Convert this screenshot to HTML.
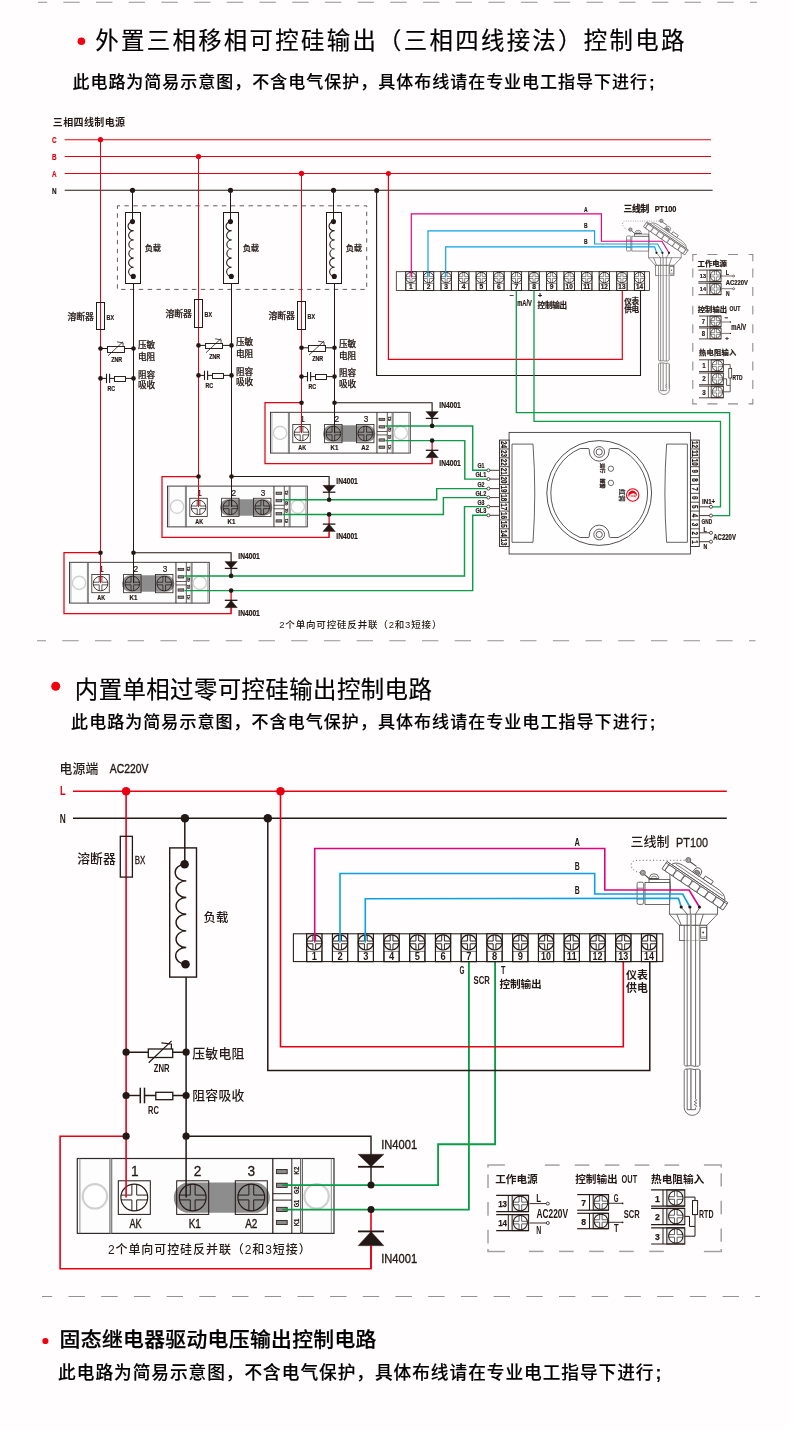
<!DOCTYPE html>
<html lang="zh-CN"><head><meta charset="utf-8"><title>控制电路接线图</title>
<style>
html,body{margin:0;padding:0;background:#fffdfd;}
body{width:790px;height:1430px;overflow:hidden;}
svg{display:block;font-family:'Liberation Sans','Noto Sans CJK SC',sans-serif;will-change:transform;-webkit-font-smoothing:antialiased;}
text{white-space:pre;}
</style></head><body>
<svg width="790" height="1430" viewBox="0 0 790 1430">
<rect x="0" y="0" width="790" height="1430" fill="#fffdfd"/>
<line x1="38" y1="2.3" x2="757" y2="2.3" stroke="#929292" stroke-width="1.1" stroke-dasharray="16.4 16.3" stroke-dashoffset="7.4"/>
<line x1="37" y1="640.8" x2="755.5" y2="640.8" stroke="#929292" stroke-width="1.1" stroke-dasharray="16.4 16.3" stroke-dashoffset="7.4"/>
<line x1="42" y1="1296.5" x2="760" y2="1296.5" stroke="#929292" stroke-width="1.1" stroke-dasharray="16.4 16.3" stroke-dashoffset="6.2"/>
<circle cx="81.4" cy="41.3" r="3.8" fill="#f2000d" stroke="none" stroke-width="1" />
<text x="95.3" y="49.02" font-size="23.4" font-weight="400" fill="#000" textLength="589" lengthAdjust="spacing" stroke="#000" stroke-width="0.2">外置三相移相可控硅输出（三相四线接法）控制电路</text>
<text x="72.4" y="87.92" font-size="17" font-weight="500" fill="#000" textLength="582.2" lengthAdjust="spacing" stroke="#000" stroke-width="0.12">此电路为简易示意图，不含电气保护，具体布线请在专业电工指导下进行<tspan font-weight="700" dx="0.9">;</tspan></text>
<circle cx="55.7" cy="686.3" r="4.5" fill="#f2000d" stroke="none" stroke-width="1" />
<text x="74.8" y="697.52" font-size="23.4" font-weight="400" fill="#000" textLength="357" lengthAdjust="spacing" stroke="#000" stroke-width="0.2">内置单相过零可控硅输出控制电路</text>
<text x="71.1" y="727.62" font-size="17" font-weight="500" fill="#000" textLength="584.2" lengthAdjust="spacing" stroke="#000" stroke-width="0.12">此电路为简易示意图，不含电气保护，具体布线请在专业电工指导下进行<tspan font-weight="700" dx="0.9">;</tspan></text>
<circle cx="45.4" cy="1341" r="3.1" fill="#f2000d" stroke="none" stroke-width="1" />
<text x="59.6" y="1346.99" font-size="20.8" font-weight="500" fill="#000" textLength="316.8" lengthAdjust="spacing" stroke="#000" stroke-width="0.25">固态继电器驱动电压输出控制电路</text>
<text x="58.1" y="1378.87" font-size="17.7" font-weight="500" fill="#000" textLength="603.2" lengthAdjust="spacing" stroke="#000" stroke-width="0.12">此电路为简易示意图，不含电气保护，具体布线请在专业电工指导下进行<tspan font-weight="700" dx="0.9">;</tspan></text>
<text x="52.8" y="125.6" font-size="10" font-weight="700" fill="#231815" textLength="72.2" lengthAdjust="spacing" >三相四线制电源</text>
<text x="54.2" y="143.26" font-size="9.6" font-weight="700" fill="#e60012" text-anchor="middle" textLength="4.6" lengthAdjust="spacingAndGlyphs"  stroke="#e60012" stroke-width="0.22">C</text>
<line x1="64.7" y1="139.7" x2="711" y2="139.7" stroke="#e60012" stroke-width="1.05" />
<text x="54.2" y="160.06" font-size="9.6" font-weight="700" fill="#e60012" text-anchor="middle" textLength="4.6" lengthAdjust="spacingAndGlyphs"  stroke="#e60012" stroke-width="0.22">B</text>
<line x1="64.7" y1="156.5" x2="711" y2="156.5" stroke="#e60012" stroke-width="1.05" />
<text x="54.2" y="176.96" font-size="9.6" font-weight="700" fill="#e60012" text-anchor="middle" textLength="4.6" lengthAdjust="spacingAndGlyphs"  stroke="#e60012" stroke-width="0.22">A</text>
<line x1="64.7" y1="173.4" x2="711" y2="173.4" stroke="#e60012" stroke-width="1.05" />
<text x="54.2" y="193.86" font-size="9.6" font-weight="700" fill="#231815" text-anchor="middle" textLength="4.6" lengthAdjust="spacingAndGlyphs"  stroke="#231815" stroke-width="0.22">N</text>
<line x1="64.7" y1="190.3" x2="712.6" y2="190.3" stroke="#231815" stroke-width="1.1" />
<rect x="117.4" y="205.8" width="249.3" height="83.6" rx="0" fill="none" stroke="#5e5e5e" stroke-width="1" stroke-dasharray="4.4 4.46" stroke-dashoffset="1.8"/>
<polyline points="100.5,552.7 64,552.7 64,613.5 231.1,613.5 231.1,590.7" fill="none" stroke="#e60012" stroke-width="1.25" stroke-linejoin="miter" />
<polyline points="133.5,552.7 231.1,552.7 231.1,575.4" fill="none" stroke="#231815" stroke-width="1.15" stroke-linejoin="miter" />
<rect x="69.5" y="562.3" width="139.77" height="40.78" rx="0" fill="#fdfdfd" stroke="#2e2a29" stroke-width="0.9" />
<line x1="70.92" y1="562.3" x2="70.92" y2="603.08" stroke="#8a8a8a" stroke-width="0.7200000000000001" />
<rect x="87.25" y="562.3" width="1.03" height="40.78" rx="0" fill="#ddd" stroke="#4a4a4a" stroke-width="0.63" />
<circle cx="79.08" cy="582.88" r="6.64" fill="#fff" stroke="#d0d0d0" stroke-width="1.33455" />
<rect x="91.82" y="574.44" width="17.42" height="18.3" rx="0" fill="#fff" stroke="#231815" stroke-width="0.765" />
<rect x="123.62" y="574.44" width="17.42" height="18.3" rx="0" fill="#fff" stroke="none" stroke-width="0" />
<rect x="155.53" y="574.44" width="17.42" height="18.3" rx="0" fill="#fff" stroke="none" stroke-width="0" />
<rect x="122.04" y="575.37" width="52.27" height="16.5" rx="8.22" fill="#8d8d8d" stroke="none" stroke-width="0" />
<circle cx="100.54" cy="583.54" r="7.3" fill="#fff" stroke="none" stroke-width="0" />
<path d="M99.22 576.36V582.22H93.36M93.36 584.85H99.22V590.71M101.85 590.71V584.85H107.71M107.71 582.22H101.85V576.36" fill="none" stroke="#231815" stroke-width="0.72675" />
<circle cx="100.54" cy="583.54" r="7.3" fill="none" stroke="#231815" stroke-width="0.855" />
<rect x="123.62" y="574.44" width="17.42" height="18.3" rx="0" fill="none" stroke="#231815" stroke-width="0.765" />
<circle cx="132.34" cy="583.54" r="7.3" fill="none" stroke="none" stroke-width="0" />
<path d="M131.02 576.36V582.22H125.16M125.16 584.85H131.02V590.71M133.65 590.71V584.85H139.51M139.51 582.22H133.65V576.36" fill="none" stroke="#231815" stroke-width="0.72675" />
<circle cx="132.34" cy="583.54" r="7.3" fill="none" stroke="#231815" stroke-width="0.855" />
<rect x="155.53" y="574.44" width="17.42" height="18.3" rx="0" fill="none" stroke="#231815" stroke-width="0.765" />
<circle cx="164.24" cy="583.54" r="7.3" fill="none" stroke="none" stroke-width="0" />
<path d="M162.93 576.36V582.22H157.07M157.07 584.85H162.93V590.71M165.56 590.71V584.85H171.42M171.42 582.22H165.56V576.36" fill="none" stroke="#231815" stroke-width="0.72675" />
<circle cx="164.24" cy="583.54" r="7.3" fill="none" stroke="#231815" stroke-width="0.855" />
<text x="101.63" y="571.93" font-size="9.2" font-weight="400" fill="#231815" text-anchor="middle" textLength="4.6" lengthAdjust="spacingAndGlyphs" stroke="#231815" stroke-width="0.2">1</text>
<text x="135.82" y="571.93" font-size="9.2" font-weight="400" fill="#231815" text-anchor="middle" textLength="4.6" lengthAdjust="spacingAndGlyphs" stroke="#231815" stroke-width="0.2">2</text>
<text x="165.06" y="571.93" font-size="9.2" font-weight="400" fill="#231815" text-anchor="middle" textLength="4.6" lengthAdjust="spacingAndGlyphs" stroke="#231815" stroke-width="0.2">3</text>
<text x="101.24" y="600.32" font-size="7.6" font-weight="700" fill="#231815" text-anchor="middle" textLength="7.75" lengthAdjust="spacingAndGlyphs"  stroke="#231815" stroke-width="0.22">AK</text>
<text x="133.48" y="600.32" font-size="7.6" font-weight="700" fill="#231815" text-anchor="middle" textLength="7.75" lengthAdjust="spacingAndGlyphs"  stroke="#231815" stroke-width="0.22">K1</text>
<line x1="175.95" y1="562.3" x2="175.95" y2="603.08" stroke="#231815" stroke-width="0.9" />
<line x1="186.3" y1="562.3" x2="186.3" y2="603.08" stroke="#231815" stroke-width="0.7200000000000001" />
<rect x="191.09" y="562.3" width="1.03" height="40.78" rx="0" fill="#ddd" stroke="#4a4a4a" stroke-width="0.63" />
<line x1="207.8" y1="562.3" x2="207.8" y2="603.08" stroke="#8a8a8a" stroke-width="0.7200000000000001" />
<line x1="175.95" y1="581.47" x2="186.3" y2="581.47" stroke="#231815" stroke-width="0.7200000000000001" />
<line x1="175.95" y1="584.95" x2="186.3" y2="584.95" stroke="#231815" stroke-width="0.7200000000000001" />
<rect x="178.02" y="568.29" width="5.77" height="2.29" rx="0" fill="#8a8a8a" stroke="#231815" stroke-width="0.63" />
<rect x="178.02" y="575.75" width="5.77" height="2.29" rx="0" fill="#8a8a8a" stroke="#231815" stroke-width="0.63" />
<rect x="178.02" y="588.87" width="5.77" height="2.29" rx="0" fill="#8a8a8a" stroke="#231815" stroke-width="0.63" />
<rect x="178.02" y="596" width="5.77" height="2.29" rx="0" fill="#8a8a8a" stroke="#231815" stroke-width="0.63" />
<text x="188.75" y="570.43" font-size="4.28" font-weight="700" fill="#231815" text-anchor="middle" textLength="4.5" lengthAdjust="spacingAndGlyphs" transform="rotate(-90 188.75 568.89)"  stroke="#231815" stroke-width="0.22">K2</text>
<text x="188.75" y="581.05" font-size="4.28" font-weight="700" fill="#231815" text-anchor="middle" textLength="4.5" lengthAdjust="spacingAndGlyphs" transform="rotate(-90 188.75 579.51)"  stroke="#231815" stroke-width="0.22">G2</text>
<text x="188.75" y="588.35" font-size="4.28" font-weight="700" fill="#231815" text-anchor="middle" textLength="4.5" lengthAdjust="spacingAndGlyphs" transform="rotate(-90 188.75 586.8)"  stroke="#231815" stroke-width="0.22">G1</text>
<text x="188.75" y="598.69" font-size="4.28" font-weight="700" fill="#231815" text-anchor="middle" textLength="4.5" lengthAdjust="spacingAndGlyphs" transform="rotate(-90 188.75 597.15)"  stroke="#231815" stroke-width="0.22">K1</text>
<circle cx="199.8" cy="582.88" r="6.64" fill="#fff" stroke="#d0d0d0" stroke-width="1.33455" />
<line x1="100.5" y1="139.7" x2="100.5" y2="583.2" stroke="#e60012" stroke-width="1" />
<line x1="133.5" y1="276.4" x2="133.5" y2="583.2" stroke="#231815" stroke-width="1" />
<circle cx="100.5" cy="139.7" r="2.6" fill="#e60012" stroke="none" stroke-width="1" />
<circle cx="132.5" cy="190.3" r="2.6" fill="#231815" stroke="none" stroke-width="1" />
<circle cx="100.5" cy="552.7" r="2.3" fill="#231815" stroke="none" stroke-width="1" />
<circle cx="133.5" cy="552.7" r="2.3" fill="#231815" stroke="none" stroke-width="1" />
<rect x="125.5" y="212.5" width="15" height="71" rx="0" fill="#fffdfd" stroke="#231815" stroke-width="1" />
<line x1="132.5" y1="190.3" x2="132.5" y2="221.5" stroke="#231815" stroke-width="1" />
<path d="M132.5 221.6A5 4.57 0 0 0 133.61 230.73A5 4.57 0 0 0 133.61 239.87A5 4.57 0 0 0 133.61 249A5 4.57 0 0 0 133.61 258.13A5 4.57 0 0 0 133.61 267.27A5 4.57 0 0 0 133.3 276.4" fill="none" stroke="#231815" stroke-width="1.05" />
<circle cx="132.5" cy="221.6" r="2.55" fill="#231815" stroke="none" stroke-width="1" />
<circle cx="133.3" cy="276.4" r="2.55" fill="#231815" stroke="none" stroke-width="1" />
<text x="144.7" y="251.29" font-size="8.3" font-weight="500" fill="#231815" textLength="16.4" lengthAdjust="spacing" stroke="#231815" stroke-width="0.2">负载</text>
<rect x="96.5" y="302.5" width="8" height="27" rx="0" fill="none" stroke="#231815" stroke-width="1" />
<text x="67.4" y="319.9" font-size="8.9" font-weight="500" fill="#231815" textLength="26.4" lengthAdjust="spacing" stroke="#231815" stroke-width="0.2">溶断器</text>
<text x="106.6" y="319.81" font-size="7.8" font-weight="700" fill="#231815" textLength="7.4" lengthAdjust="spacingAndGlyphs"  stroke="#231815" stroke-width="0.22">BX</text>
<line x1="100.5" y1="348.5" x2="133.5" y2="348.5" stroke="#231815" stroke-width="1" />
<circle cx="100.5" cy="348.5" r="2.3" fill="#231815" stroke="none" stroke-width="1" />
<circle cx="133.5" cy="348.5" r="2.3" fill="#231815" stroke="none" stroke-width="1" />
<rect x="107.5" y="346.5" width="17" height="6" rx="0" fill="#fffdfd" stroke="#231815" stroke-width="0.95" />
<path d="M108 355.8 L123.1 341.6 M117.1 341.9 L123.1 342.9 V345.9" fill="none" stroke="#231815" stroke-width="0.8" />
<text x="116.7" y="361.96" font-size="7.4" font-weight="700" fill="#231815" text-anchor="middle" textLength="11" lengthAdjust="spacingAndGlyphs"  stroke="#231815" stroke-width="0.22">ZNR</text>
<text x="138.1" y="347.93" font-size="8.7" font-weight="500" fill="#231815" textLength="17.2" lengthAdjust="spacing" stroke="#231815" stroke-width="0.2">压敏</text>
<text x="138.1" y="359.83" font-size="8.7" font-weight="500" fill="#231815" textLength="17.2" lengthAdjust="spacing" stroke="#231815" stroke-width="0.2">电阻</text>
<line x1="100.5" y1="378.4" x2="106.5" y2="378.4" stroke="#231815" stroke-width="1" />
<line x1="109.6" y1="378.4" x2="133.5" y2="378.4" stroke="#231815" stroke-width="1" />
<circle cx="100.5" cy="378.4" r="2.3" fill="#231815" stroke="none" stroke-width="1" />
<circle cx="133.5" cy="378.4" r="2.3" fill="#231815" stroke="none" stroke-width="1" />
<line x1="106.5" y1="373.7" x2="106.5" y2="383.1" stroke="#231815" stroke-width="1.1" />
<line x1="109.6" y1="373.7" x2="109.6" y2="383.1" stroke="#231815" stroke-width="1.1" />
<rect x="114.5" y="376.5" width="11" height="5" rx="0" fill="#fffdfd" stroke="#231815" stroke-width="0.95" />
<text x="111.2" y="391.16" font-size="7.4" font-weight="700" fill="#231815" text-anchor="middle" textLength="7.6" lengthAdjust="spacingAndGlyphs"  stroke="#231815" stroke-width="0.22">RC</text>
<text x="138.1" y="377.53" font-size="8.7" font-weight="500" fill="#231815" textLength="17.2" lengthAdjust="spacing" stroke="#231815" stroke-width="0.2">阻容</text>
<text x="138.1" y="388.33" font-size="8.7" font-weight="500" fill="#231815" textLength="17.2" lengthAdjust="spacing" stroke="#231815" stroke-width="0.2">吸收</text>
<polygon points="224.8,561.5 237.4,561.5 231.1,568.4" fill="#231815" stroke="#231815" stroke-width="0.3" />
<line x1="224.8" y1="568.4" x2="237.4" y2="568.4" stroke="#231815" stroke-width="1.3" />
<polygon points="224.8,607.7 237.4,607.7 231.1,600.3" fill="#231815" stroke="#231815" stroke-width="0.3" />
<line x1="224.8" y1="600.3" x2="237.4" y2="600.3" stroke="#231815" stroke-width="1.3" />
<line x1="231.1" y1="607.7" x2="231.1" y2="613.5" stroke="#e60012" stroke-width="1" />
<text x="238.3" y="559.42" font-size="8.4" font-weight="700" fill="#231815" textLength="21.5" lengthAdjust="spacingAndGlyphs"  stroke="#231815" stroke-width="0.22">IN4001</text>
<text x="238.3" y="615.82" font-size="8.4" font-weight="700" fill="#231815" textLength="21.5" lengthAdjust="spacingAndGlyphs"  stroke="#231815" stroke-width="0.22">IN4001</text>
<polyline points="198.5,476.5 162,476.5 162,537.3 329.1,537.3 329.1,514.5" fill="none" stroke="#e60012" stroke-width="1.25" stroke-linejoin="miter" />
<polyline points="231.5,476.5 329.1,476.5 329.1,499.2" fill="none" stroke="#231815" stroke-width="1.15" stroke-linejoin="miter" />
<rect x="167.5" y="486.1" width="139.77" height="40.78" rx="0" fill="#fdfdfd" stroke="#2e2a29" stroke-width="0.9" />
<line x1="168.92" y1="486.1" x2="168.92" y2="526.88" stroke="#8a8a8a" stroke-width="0.7200000000000001" />
<rect x="185.25" y="486.1" width="1.03" height="40.78" rx="0" fill="#ddd" stroke="#4a4a4a" stroke-width="0.63" />
<circle cx="177.08" cy="506.68" r="6.64" fill="#fff" stroke="#d0d0d0" stroke-width="1.33455" />
<rect x="189.82" y="498.24" width="17.42" height="18.3" rx="0" fill="#fff" stroke="#231815" stroke-width="0.765" />
<rect x="221.62" y="498.24" width="17.42" height="18.3" rx="0" fill="#fff" stroke="none" stroke-width="0" />
<rect x="253.53" y="498.24" width="17.42" height="18.3" rx="0" fill="#fff" stroke="none" stroke-width="0" />
<rect x="220.04" y="499.17" width="52.27" height="16.5" rx="8.22" fill="#8d8d8d" stroke="none" stroke-width="0" />
<circle cx="198.54" cy="507.34" r="7.3" fill="#fff" stroke="none" stroke-width="0" />
<path d="M197.22 500.16V506.02H191.36M191.36 508.65H197.22V514.51M199.85 514.51V508.65H205.71M205.71 506.02H199.85V500.16" fill="none" stroke="#231815" stroke-width="0.72675" />
<circle cx="198.54" cy="507.34" r="7.3" fill="none" stroke="#231815" stroke-width="0.855" />
<rect x="221.62" y="498.24" width="17.42" height="18.3" rx="0" fill="none" stroke="#231815" stroke-width="0.765" />
<circle cx="230.34" cy="507.34" r="7.3" fill="none" stroke="none" stroke-width="0" />
<path d="M229.02 500.16V506.02H223.16M223.16 508.65H229.02V514.51M231.65 514.51V508.65H237.51M237.51 506.02H231.65V500.16" fill="none" stroke="#231815" stroke-width="0.72675" />
<circle cx="230.34" cy="507.34" r="7.3" fill="none" stroke="#231815" stroke-width="0.855" />
<rect x="253.53" y="498.24" width="17.42" height="18.3" rx="0" fill="none" stroke="#231815" stroke-width="0.765" />
<circle cx="262.24" cy="507.34" r="7.3" fill="none" stroke="none" stroke-width="0" />
<path d="M260.93 500.16V506.02H255.07M255.07 508.65H260.93V514.51M263.56 514.51V508.65H269.42M269.42 506.02H263.56V500.16" fill="none" stroke="#231815" stroke-width="0.72675" />
<circle cx="262.24" cy="507.34" r="7.3" fill="none" stroke="#231815" stroke-width="0.855" />
<text x="199.63" y="495.73" font-size="9.2" font-weight="400" fill="#231815" text-anchor="middle" textLength="4.6" lengthAdjust="spacingAndGlyphs" stroke="#231815" stroke-width="0.2">1</text>
<text x="233.82" y="495.73" font-size="9.2" font-weight="400" fill="#231815" text-anchor="middle" textLength="4.6" lengthAdjust="spacingAndGlyphs" stroke="#231815" stroke-width="0.2">2</text>
<text x="263.06" y="495.73" font-size="9.2" font-weight="400" fill="#231815" text-anchor="middle" textLength="4.6" lengthAdjust="spacingAndGlyphs" stroke="#231815" stroke-width="0.2">3</text>
<text x="199.24" y="524.12" font-size="7.6" font-weight="700" fill="#231815" text-anchor="middle" textLength="7.75" lengthAdjust="spacingAndGlyphs"  stroke="#231815" stroke-width="0.22">AK</text>
<text x="231.48" y="524.12" font-size="7.6" font-weight="700" fill="#231815" text-anchor="middle" textLength="7.75" lengthAdjust="spacingAndGlyphs"  stroke="#231815" stroke-width="0.22">K1</text>
<line x1="273.95" y1="486.1" x2="273.95" y2="526.88" stroke="#231815" stroke-width="0.9" />
<line x1="284.3" y1="486.1" x2="284.3" y2="526.88" stroke="#231815" stroke-width="0.7200000000000001" />
<rect x="289.09" y="486.1" width="1.03" height="40.78" rx="0" fill="#ddd" stroke="#4a4a4a" stroke-width="0.63" />
<line x1="305.8" y1="486.1" x2="305.8" y2="526.88" stroke="#8a8a8a" stroke-width="0.7200000000000001" />
<line x1="273.95" y1="505.27" x2="284.3" y2="505.27" stroke="#231815" stroke-width="0.7200000000000001" />
<line x1="273.95" y1="508.75" x2="284.3" y2="508.75" stroke="#231815" stroke-width="0.7200000000000001" />
<rect x="276.02" y="492.09" width="5.77" height="2.29" rx="0" fill="#8a8a8a" stroke="#231815" stroke-width="0.63" />
<rect x="276.02" y="499.55" width="5.77" height="2.29" rx="0" fill="#8a8a8a" stroke="#231815" stroke-width="0.63" />
<rect x="276.02" y="512.67" width="5.77" height="2.29" rx="0" fill="#8a8a8a" stroke="#231815" stroke-width="0.63" />
<rect x="276.02" y="519.8" width="5.77" height="2.29" rx="0" fill="#8a8a8a" stroke="#231815" stroke-width="0.63" />
<text x="286.75" y="494.23" font-size="4.28" font-weight="700" fill="#231815" text-anchor="middle" textLength="4.5" lengthAdjust="spacingAndGlyphs" transform="rotate(-90 286.75 492.69)"  stroke="#231815" stroke-width="0.22">K2</text>
<text x="286.75" y="504.85" font-size="4.28" font-weight="700" fill="#231815" text-anchor="middle" textLength="4.5" lengthAdjust="spacingAndGlyphs" transform="rotate(-90 286.75 503.31)"  stroke="#231815" stroke-width="0.22">G2</text>
<text x="286.75" y="512.15" font-size="4.28" font-weight="700" fill="#231815" text-anchor="middle" textLength="4.5" lengthAdjust="spacingAndGlyphs" transform="rotate(-90 286.75 510.6)"  stroke="#231815" stroke-width="0.22">G1</text>
<text x="286.75" y="522.49" font-size="4.28" font-weight="700" fill="#231815" text-anchor="middle" textLength="4.5" lengthAdjust="spacingAndGlyphs" transform="rotate(-90 286.75 520.95)"  stroke="#231815" stroke-width="0.22">K1</text>
<circle cx="297.8" cy="506.68" r="6.64" fill="#fff" stroke="#d0d0d0" stroke-width="1.33455" />
<line x1="198.5" y1="156.5" x2="198.5" y2="507" stroke="#e60012" stroke-width="1" />
<line x1="231.5" y1="276.4" x2="231.5" y2="507" stroke="#231815" stroke-width="1" />
<circle cx="198.5" cy="156.5" r="2.6" fill="#e60012" stroke="none" stroke-width="1" />
<circle cx="230.5" cy="190.3" r="2.6" fill="#231815" stroke="none" stroke-width="1" />
<circle cx="198.5" cy="476.5" r="2.3" fill="#231815" stroke="none" stroke-width="1" />
<circle cx="231.5" cy="476.5" r="2.3" fill="#231815" stroke="none" stroke-width="1" />
<rect x="223.5" y="212.5" width="15" height="71" rx="0" fill="#fffdfd" stroke="#231815" stroke-width="1" />
<line x1="230.5" y1="190.3" x2="230.5" y2="221.5" stroke="#231815" stroke-width="1" />
<path d="M230.5 221.6A5 4.57 0 0 0 231.61 230.73A5 4.57 0 0 0 231.61 239.87A5 4.57 0 0 0 231.61 249A5 4.57 0 0 0 231.61 258.13A5 4.57 0 0 0 231.61 267.27A5 4.57 0 0 0 231.3 276.4" fill="none" stroke="#231815" stroke-width="1.05" />
<circle cx="230.5" cy="221.6" r="2.55" fill="#231815" stroke="none" stroke-width="1" />
<circle cx="231.3" cy="276.4" r="2.55" fill="#231815" stroke="none" stroke-width="1" />
<text x="242.7" y="251.29" font-size="8.3" font-weight="500" fill="#231815" textLength="16.4" lengthAdjust="spacing" stroke="#231815" stroke-width="0.2">负载</text>
<rect x="194.5" y="299.5" width="8" height="28" rx="0" fill="none" stroke="#231815" stroke-width="1" />
<text x="165.4" y="317.1" font-size="8.9" font-weight="500" fill="#231815" textLength="26.4" lengthAdjust="spacing" stroke="#231815" stroke-width="0.2">溶断器</text>
<text x="204.6" y="317.01" font-size="7.8" font-weight="700" fill="#231815" textLength="7.4" lengthAdjust="spacingAndGlyphs"  stroke="#231815" stroke-width="0.22">BX</text>
<line x1="198.5" y1="345.4" x2="231.5" y2="345.4" stroke="#231815" stroke-width="1" />
<circle cx="198.5" cy="345.4" r="2.3" fill="#231815" stroke="none" stroke-width="1" />
<circle cx="231.5" cy="345.4" r="2.3" fill="#231815" stroke="none" stroke-width="1" />
<rect x="205.5" y="343.5" width="17" height="5" rx="0" fill="#fffdfd" stroke="#231815" stroke-width="0.95" />
<path d="M206 352.7 L221.1 338.5 M215.1 338.8 L221.1 339.8 V342.8" fill="none" stroke="#231815" stroke-width="0.8" />
<text x="214.7" y="358.86" font-size="7.4" font-weight="700" fill="#231815" text-anchor="middle" textLength="11" lengthAdjust="spacingAndGlyphs"  stroke="#231815" stroke-width="0.22">ZNR</text>
<text x="236.1" y="344.83" font-size="8.7" font-weight="500" fill="#231815" textLength="17.2" lengthAdjust="spacing" stroke="#231815" stroke-width="0.2">压敏</text>
<text x="236.1" y="356.73" font-size="8.7" font-weight="500" fill="#231815" textLength="17.2" lengthAdjust="spacing" stroke="#231815" stroke-width="0.2">电阻</text>
<line x1="198.5" y1="375.4" x2="204.5" y2="375.4" stroke="#231815" stroke-width="1" />
<line x1="207.6" y1="375.4" x2="231.5" y2="375.4" stroke="#231815" stroke-width="1" />
<circle cx="198.5" cy="375.4" r="2.3" fill="#231815" stroke="none" stroke-width="1" />
<circle cx="231.5" cy="375.4" r="2.3" fill="#231815" stroke="none" stroke-width="1" />
<line x1="204.5" y1="370.7" x2="204.5" y2="380.1" stroke="#231815" stroke-width="1.1" />
<line x1="207.6" y1="370.7" x2="207.6" y2="380.1" stroke="#231815" stroke-width="1.1" />
<rect x="212.5" y="373.5" width="11" height="5" rx="0" fill="#fffdfd" stroke="#231815" stroke-width="0.95" />
<text x="209.2" y="388.16" font-size="7.4" font-weight="700" fill="#231815" text-anchor="middle" textLength="7.6" lengthAdjust="spacingAndGlyphs"  stroke="#231815" stroke-width="0.22">RC</text>
<text x="236.1" y="374.53" font-size="8.7" font-weight="500" fill="#231815" textLength="17.2" lengthAdjust="spacing" stroke="#231815" stroke-width="0.2">阻容</text>
<text x="236.1" y="385.33" font-size="8.7" font-weight="500" fill="#231815" textLength="17.2" lengthAdjust="spacing" stroke="#231815" stroke-width="0.2">吸收</text>
<polygon points="322.8,485.3 335.4,485.3 329.1,492.2" fill="#231815" stroke="#231815" stroke-width="0.3" />
<line x1="322.8" y1="492.2" x2="335.4" y2="492.2" stroke="#231815" stroke-width="1.3" />
<polygon points="322.8,531.5 335.4,531.5 329.1,524.1" fill="#231815" stroke="#231815" stroke-width="0.3" />
<line x1="322.8" y1="524.1" x2="335.4" y2="524.1" stroke="#231815" stroke-width="1.3" />
<line x1="329.1" y1="531.5" x2="329.1" y2="537.3" stroke="#e60012" stroke-width="1" />
<text x="336.3" y="484.42" font-size="8.4" font-weight="700" fill="#231815" textLength="21.5" lengthAdjust="spacingAndGlyphs"  stroke="#231815" stroke-width="0.22">IN4001</text>
<text x="336.3" y="538.82" font-size="8.4" font-weight="700" fill="#231815" textLength="21.5" lengthAdjust="spacingAndGlyphs"  stroke="#231815" stroke-width="0.22">IN4001</text>
<polyline points="301.5,402.7 265,402.7 265,463.5 432.1,463.5 432.1,440.7" fill="none" stroke="#e60012" stroke-width="1.25" stroke-linejoin="miter" />
<polyline points="334.5,402.7 432.1,402.7 432.1,425.4" fill="none" stroke="#231815" stroke-width="1.15" stroke-linejoin="miter" />
<rect x="270.5" y="412.3" width="139.77" height="40.78" rx="0" fill="#fdfdfd" stroke="#2e2a29" stroke-width="0.9" />
<line x1="271.92" y1="412.3" x2="271.92" y2="453.08" stroke="#8a8a8a" stroke-width="0.7200000000000001" />
<rect x="288.25" y="412.3" width="1.03" height="40.78" rx="0" fill="#ddd" stroke="#4a4a4a" stroke-width="0.63" />
<circle cx="280.08" cy="432.88" r="6.64" fill="#fff" stroke="#d0d0d0" stroke-width="1.33455" />
<rect x="292.82" y="424.44" width="17.42" height="18.3" rx="0" fill="#fff" stroke="#231815" stroke-width="0.765" />
<rect x="324.62" y="424.44" width="17.42" height="18.3" rx="0" fill="#fff" stroke="none" stroke-width="0" />
<rect x="356.53" y="424.44" width="17.42" height="18.3" rx="0" fill="#fff" stroke="none" stroke-width="0" />
<rect x="323.04" y="425.37" width="52.27" height="16.5" rx="8.22" fill="#8d8d8d" stroke="none" stroke-width="0" />
<circle cx="301.54" cy="433.54" r="7.3" fill="#fff" stroke="none" stroke-width="0" />
<path d="M300.22 426.36V432.22H294.36M294.36 434.85H300.22V440.71M302.85 440.71V434.85H308.71M308.71 432.22H302.85V426.36" fill="none" stroke="#231815" stroke-width="0.72675" />
<circle cx="301.54" cy="433.54" r="7.3" fill="none" stroke="#231815" stroke-width="0.855" />
<rect x="324.62" y="424.44" width="17.42" height="18.3" rx="0" fill="none" stroke="#231815" stroke-width="0.765" />
<circle cx="333.34" cy="433.54" r="7.3" fill="none" stroke="none" stroke-width="0" />
<path d="M332.02 426.36V432.22H326.16M326.16 434.85H332.02V440.71M334.65 440.71V434.85H340.51M340.51 432.22H334.65V426.36" fill="none" stroke="#231815" stroke-width="0.72675" />
<circle cx="333.34" cy="433.54" r="7.3" fill="none" stroke="#231815" stroke-width="0.855" />
<rect x="356.53" y="424.44" width="17.42" height="18.3" rx="0" fill="none" stroke="#231815" stroke-width="0.765" />
<circle cx="365.24" cy="433.54" r="7.3" fill="none" stroke="none" stroke-width="0" />
<path d="M363.93 426.36V432.22H358.07M358.07 434.85H363.93V440.71M366.56 440.71V434.85H372.42M372.42 432.22H366.56V426.36" fill="none" stroke="#231815" stroke-width="0.72675" />
<circle cx="365.24" cy="433.54" r="7.3" fill="none" stroke="#231815" stroke-width="0.855" />
<text x="302.63" y="421.93" font-size="9.2" font-weight="400" fill="#231815" text-anchor="middle" textLength="4.6" lengthAdjust="spacingAndGlyphs" stroke="#231815" stroke-width="0.2">1</text>
<text x="336.82" y="421.93" font-size="9.2" font-weight="400" fill="#231815" text-anchor="middle" textLength="4.6" lengthAdjust="spacingAndGlyphs" stroke="#231815" stroke-width="0.2">2</text>
<text x="366.06" y="421.93" font-size="9.2" font-weight="400" fill="#231815" text-anchor="middle" textLength="4.6" lengthAdjust="spacingAndGlyphs" stroke="#231815" stroke-width="0.2">3</text>
<text x="302.24" y="450.32" font-size="7.6" font-weight="700" fill="#231815" text-anchor="middle" textLength="7.75" lengthAdjust="spacingAndGlyphs"  stroke="#231815" stroke-width="0.22">AK</text>
<text x="334.48" y="450.32" font-size="7.6" font-weight="700" fill="#231815" text-anchor="middle" textLength="7.75" lengthAdjust="spacingAndGlyphs"  stroke="#231815" stroke-width="0.22">K1</text>
<text x="365.24" y="450.32" font-size="7.6" font-weight="700" fill="#231815" text-anchor="middle" textLength="7.75" lengthAdjust="spacingAndGlyphs"  stroke="#231815" stroke-width="0.22">A2</text>
<line x1="376.95" y1="412.3" x2="376.95" y2="453.08" stroke="#231815" stroke-width="0.9" />
<line x1="387.3" y1="412.3" x2="387.3" y2="453.08" stroke="#231815" stroke-width="0.7200000000000001" />
<rect x="392.09" y="412.3" width="1.03" height="40.78" rx="0" fill="#ddd" stroke="#4a4a4a" stroke-width="0.63" />
<line x1="408.8" y1="412.3" x2="408.8" y2="453.08" stroke="#8a8a8a" stroke-width="0.7200000000000001" />
<line x1="376.95" y1="431.47" x2="387.3" y2="431.47" stroke="#231815" stroke-width="0.7200000000000001" />
<line x1="376.95" y1="434.95" x2="387.3" y2="434.95" stroke="#231815" stroke-width="0.7200000000000001" />
<rect x="379.02" y="418.29" width="5.77" height="2.29" rx="0" fill="#8a8a8a" stroke="#231815" stroke-width="0.63" />
<rect x="379.02" y="425.75" width="5.77" height="2.29" rx="0" fill="#8a8a8a" stroke="#231815" stroke-width="0.63" />
<rect x="379.02" y="438.87" width="5.77" height="2.29" rx="0" fill="#8a8a8a" stroke="#231815" stroke-width="0.63" />
<rect x="379.02" y="446" width="5.77" height="2.29" rx="0" fill="#8a8a8a" stroke="#231815" stroke-width="0.63" />
<text x="389.75" y="420.43" font-size="4.28" font-weight="700" fill="#231815" text-anchor="middle" textLength="4.5" lengthAdjust="spacingAndGlyphs" transform="rotate(-90 389.75 418.89)"  stroke="#231815" stroke-width="0.22">K2</text>
<text x="389.75" y="431.05" font-size="4.28" font-weight="700" fill="#231815" text-anchor="middle" textLength="4.5" lengthAdjust="spacingAndGlyphs" transform="rotate(-90 389.75 429.51)"  stroke="#231815" stroke-width="0.22">G2</text>
<text x="389.75" y="438.35" font-size="4.28" font-weight="700" fill="#231815" text-anchor="middle" textLength="4.5" lengthAdjust="spacingAndGlyphs" transform="rotate(-90 389.75 436.8)"  stroke="#231815" stroke-width="0.22">G1</text>
<text x="389.75" y="448.69" font-size="4.28" font-weight="700" fill="#231815" text-anchor="middle" textLength="4.5" lengthAdjust="spacingAndGlyphs" transform="rotate(-90 389.75 447.15)"  stroke="#231815" stroke-width="0.22">K1</text>
<circle cx="400.8" cy="432.88" r="6.64" fill="#fff" stroke="#d0d0d0" stroke-width="1.33455" />
<line x1="301.5" y1="173.4" x2="301.5" y2="433.2" stroke="#e60012" stroke-width="1" />
<line x1="334.5" y1="276.4" x2="334.5" y2="433.2" stroke="#231815" stroke-width="1" />
<circle cx="301.5" cy="173.4" r="2.6" fill="#e60012" stroke="none" stroke-width="1" />
<circle cx="333.5" cy="190.3" r="2.6" fill="#231815" stroke="none" stroke-width="1" />
<circle cx="301.5" cy="402.7" r="2.3" fill="#231815" stroke="none" stroke-width="1" />
<circle cx="334.5" cy="402.7" r="2.3" fill="#231815" stroke="none" stroke-width="1" />
<rect x="326.5" y="212.5" width="15" height="71" rx="0" fill="#fffdfd" stroke="#231815" stroke-width="1" />
<line x1="333.5" y1="190.3" x2="333.5" y2="221.5" stroke="#231815" stroke-width="1" />
<path d="M333.5 221.6A5 4.57 0 0 0 334.61 230.73A5 4.57 0 0 0 334.61 239.87A5 4.57 0 0 0 334.61 249A5 4.57 0 0 0 334.61 258.13A5 4.57 0 0 0 334.61 267.27A5 4.57 0 0 0 334.3 276.4" fill="none" stroke="#231815" stroke-width="1.05" />
<circle cx="333.5" cy="221.6" r="2.55" fill="#231815" stroke="none" stroke-width="1" />
<circle cx="334.3" cy="276.4" r="2.55" fill="#231815" stroke="none" stroke-width="1" />
<text x="345.7" y="251.29" font-size="8.3" font-weight="500" fill="#231815" textLength="16.4" lengthAdjust="spacing" stroke="#231815" stroke-width="0.2">负载</text>
<rect x="297.5" y="301.5" width="8" height="28" rx="0" fill="none" stroke="#231815" stroke-width="1" />
<text x="268.4" y="319.4" font-size="8.9" font-weight="500" fill="#231815" textLength="26.4" lengthAdjust="spacing" stroke="#231815" stroke-width="0.2">溶断器</text>
<text x="307.6" y="319.31" font-size="7.8" font-weight="700" fill="#231815" textLength="7.4" lengthAdjust="spacingAndGlyphs"  stroke="#231815" stroke-width="0.22">BX</text>
<line x1="301.5" y1="347.8" x2="334.5" y2="347.8" stroke="#231815" stroke-width="1" />
<circle cx="301.5" cy="347.8" r="2.3" fill="#231815" stroke="none" stroke-width="1" />
<circle cx="334.5" cy="347.8" r="2.3" fill="#231815" stroke="none" stroke-width="1" />
<rect x="308.5" y="345.5" width="17" height="6" rx="0" fill="#fffdfd" stroke="#231815" stroke-width="0.95" />
<path d="M309 355.1 L324.1 340.9 M318.1 341.2 L324.1 342.2 V345.2" fill="none" stroke="#231815" stroke-width="0.8" />
<text x="317.7" y="361.26" font-size="7.4" font-weight="700" fill="#231815" text-anchor="middle" textLength="11" lengthAdjust="spacingAndGlyphs"  stroke="#231815" stroke-width="0.22">ZNR</text>
<text x="339.1" y="347.23" font-size="8.7" font-weight="500" fill="#231815" textLength="17.2" lengthAdjust="spacing" stroke="#231815" stroke-width="0.2">压敏</text>
<text x="339.1" y="359.13" font-size="8.7" font-weight="500" fill="#231815" textLength="17.2" lengthAdjust="spacing" stroke="#231815" stroke-width="0.2">电阻</text>
<line x1="301.5" y1="376.6" x2="307.5" y2="376.6" stroke="#231815" stroke-width="1" />
<line x1="310.6" y1="376.6" x2="334.5" y2="376.6" stroke="#231815" stroke-width="1" />
<circle cx="301.5" cy="376.6" r="2.3" fill="#231815" stroke="none" stroke-width="1" />
<circle cx="334.5" cy="376.6" r="2.3" fill="#231815" stroke="none" stroke-width="1" />
<line x1="307.5" y1="371.9" x2="307.5" y2="381.3" stroke="#231815" stroke-width="1.1" />
<line x1="310.6" y1="371.9" x2="310.6" y2="381.3" stroke="#231815" stroke-width="1.1" />
<rect x="315.5" y="374.5" width="11" height="5" rx="0" fill="#fffdfd" stroke="#231815" stroke-width="0.95" />
<text x="312.2" y="389.36" font-size="7.4" font-weight="700" fill="#231815" text-anchor="middle" textLength="7.6" lengthAdjust="spacingAndGlyphs"  stroke="#231815" stroke-width="0.22">RC</text>
<text x="339.1" y="375.73" font-size="8.7" font-weight="500" fill="#231815" textLength="17.2" lengthAdjust="spacing" stroke="#231815" stroke-width="0.2">阻容</text>
<text x="339.1" y="386.53" font-size="8.7" font-weight="500" fill="#231815" textLength="17.2" lengthAdjust="spacing" stroke="#231815" stroke-width="0.2">吸收</text>
<polygon points="425.8,411.5 438.4,411.5 432.1,418.4" fill="#231815" stroke="#231815" stroke-width="0.3" />
<line x1="425.8" y1="418.4" x2="438.4" y2="418.4" stroke="#231815" stroke-width="1.3" />
<polygon points="425.8,457.7 438.4,457.7 432.1,450.3" fill="#231815" stroke="#231815" stroke-width="0.3" />
<line x1="425.8" y1="450.3" x2="438.4" y2="450.3" stroke="#231815" stroke-width="1.3" />
<line x1="432.1" y1="457.7" x2="432.1" y2="463.5" stroke="#e60012" stroke-width="1" />
<text x="439.3" y="408.32" font-size="8.4" font-weight="700" fill="#231815" textLength="21.5" lengthAdjust="spacingAndGlyphs"  stroke="#231815" stroke-width="0.22">IN4001</text>
<text x="439.3" y="466.12" font-size="8.4" font-weight="700" fill="#231815" textLength="21.5" lengthAdjust="spacingAndGlyphs"  stroke="#231815" stroke-width="0.22">IN4001</text>
<polyline points="385.39,425.9 472.7,425.9 472.7,470.3 487.4,470.3" fill="none" stroke="#0a9c47" stroke-width="1.45" stroke-linejoin="miter" />
<polyline points="385.39,440.6 464.8,440.6 464.8,479.1 487.4,479.1" fill="none" stroke="#0a9c47" stroke-width="1.45" stroke-linejoin="miter" />
<circle cx="432.1" cy="425.9" r="2.3" fill="#231815" stroke="none" stroke-width="1" />
<circle cx="432.1" cy="440.6" r="2.3" fill="#231815" stroke="none" stroke-width="1" />
<polyline points="282.39,499.7 436.7,499.7 436.7,488.6 487.4,488.6" fill="none" stroke="#0a9c47" stroke-width="1.45" stroke-linejoin="miter" />
<polyline points="282.39,514.4 443.4,514.4 443.4,497.6 487.4,497.6" fill="none" stroke="#0a9c47" stroke-width="1.45" stroke-linejoin="miter" />
<circle cx="329.1" cy="499.7" r="2.3" fill="#231815" stroke="none" stroke-width="1" />
<circle cx="329.1" cy="514.4" r="2.3" fill="#231815" stroke="none" stroke-width="1" />
<polyline points="184.39,575.9 464.5,575.9 464.5,506.6 487.4,506.6" fill="none" stroke="#0a9c47" stroke-width="1.45" stroke-linejoin="miter" />
<polyline points="184.39,590.6 472.7,590.6 472.7,515.3 487.4,515.3" fill="none" stroke="#0a9c47" stroke-width="1.45" stroke-linejoin="miter" />
<circle cx="231.1" cy="575.9" r="2.3" fill="#231815" stroke="none" stroke-width="1" />
<circle cx="231.1" cy="590.6" r="2.3" fill="#231815" stroke="none" stroke-width="1" />
<text x="480.9" y="468.41" font-size="7.8" font-weight="700" fill="#231815" text-anchor="middle" textLength="7" lengthAdjust="spacingAndGlyphs"  stroke="#231815" stroke-width="0.22">G1</text>
<line x1="489.8" y1="470.3" x2="499.7" y2="470.3" stroke="#231815" stroke-width="0.85" />
<circle cx="488.4" cy="470.3" r="1.5" fill="#fff" stroke="#231815" stroke-width="0.75" />
<text x="480.9" y="477.21" font-size="7.8" font-weight="700" fill="#231815" text-anchor="middle" textLength="10.9" lengthAdjust="spacingAndGlyphs"  stroke="#231815" stroke-width="0.22">GL1</text>
<line x1="489.8" y1="479.1" x2="499.7" y2="479.1" stroke="#231815" stroke-width="0.85" />
<circle cx="488.4" cy="479.1" r="1.5" fill="#fff" stroke="#231815" stroke-width="0.75" />
<text x="480.9" y="486.71" font-size="7.8" font-weight="700" fill="#231815" text-anchor="middle" textLength="7" lengthAdjust="spacingAndGlyphs"  stroke="#231815" stroke-width="0.22">G2</text>
<line x1="489.8" y1="488.6" x2="499.7" y2="488.6" stroke="#231815" stroke-width="0.85" />
<circle cx="488.4" cy="488.6" r="1.5" fill="#fff" stroke="#231815" stroke-width="0.75" />
<text x="480.9" y="495.71" font-size="7.8" font-weight="700" fill="#231815" text-anchor="middle" textLength="10.9" lengthAdjust="spacingAndGlyphs"  stroke="#231815" stroke-width="0.22">GL2</text>
<line x1="489.8" y1="497.6" x2="499.7" y2="497.6" stroke="#231815" stroke-width="0.85" />
<circle cx="488.4" cy="497.6" r="1.5" fill="#fff" stroke="#231815" stroke-width="0.75" />
<text x="480.9" y="504.71" font-size="7.8" font-weight="700" fill="#231815" text-anchor="middle" textLength="7" lengthAdjust="spacingAndGlyphs"  stroke="#231815" stroke-width="0.22">G3</text>
<line x1="489.8" y1="506.6" x2="499.7" y2="506.6" stroke="#231815" stroke-width="0.85" />
<circle cx="488.4" cy="506.6" r="1.5" fill="#fff" stroke="#231815" stroke-width="0.75" />
<text x="480.9" y="513.41" font-size="7.8" font-weight="700" fill="#231815" text-anchor="middle" textLength="10.9" lengthAdjust="spacingAndGlyphs"  stroke="#231815" stroke-width="0.22">GL3</text>
<line x1="489.8" y1="515.3" x2="499.7" y2="515.3" stroke="#231815" stroke-width="0.85" />
<circle cx="488.4" cy="515.3" r="1.5" fill="#fff" stroke="#231815" stroke-width="0.75" />
<polyline points="376.6,190.5 376.6,375.5 640.5,375.5 640.5,290.6" fill="none" stroke="#231815" stroke-width="1.1" stroke-linejoin="miter" />
<polyline points="388.4,173.5 388.4,359.4 622.3,359.4 622.3,290.6" fill="none" stroke="#e60012" stroke-width="1.2" stroke-linejoin="miter" />
<circle cx="376.7" cy="190.5" r="2.5" fill="#231815" stroke="none" stroke-width="1" />
<circle cx="388.4" cy="173.5" r="2.5" fill="#e60012" stroke="none" stroke-width="1" />
<rect x="396.3" y="271.7" width="253.2" height="18.9" rx="0" fill="#fff" stroke="#231815" stroke-width="0.75" />
<rect x="405.82" y="271.7" width="10.34" height="18.9" rx="0" fill="#fff" stroke="#231815" stroke-width="0.75" />
<line x1="405.82" y1="283.4" x2="416.16" y2="283.4" stroke="#231815" stroke-width="0.75" />
<rect x="405.82" y="271.7" width="10.34" height="11.7" rx="0" fill="#ececec" stroke="none" stroke-width="0" />
<circle cx="410.99" cy="277.55" r="5.17" fill="#fff" stroke="none" stroke-width="0" />
<path d="M410.06 272.46V276.62H405.9M405.9 278.48H410.06V282.63M411.92 282.63V278.48H416.07M416.07 276.62H411.92V272.46" fill="none" stroke="#333" stroke-width="0.5625" />
<circle cx="410.99" cy="277.55" r="5.17" fill="none" stroke="#231815" stroke-width="0.8250000000000001" />
<rect x="405.82" y="271.7" width="10.34" height="18.9" rx="0" fill="none" stroke="#231815" stroke-width="0.75" />
<text x="410.99" y="289.46" font-size="7.2" font-weight="700" fill="#231815" text-anchor="middle" textLength="3.74" lengthAdjust="spacingAndGlyphs"  stroke="#231815" stroke-width="0.22">1</text>
<rect x="423.4" y="271.7" width="10.34" height="18.9" rx="0" fill="#fff" stroke="#231815" stroke-width="0.75" />
<line x1="423.4" y1="283.4" x2="433.73" y2="283.4" stroke="#231815" stroke-width="0.75" />
<rect x="423.4" y="271.7" width="10.34" height="11.7" rx="0" fill="#ececec" stroke="none" stroke-width="0" />
<circle cx="428.57" cy="277.55" r="5.17" fill="#fff" stroke="none" stroke-width="0" />
<path d="M427.64 272.46V276.62H423.48M423.48 278.48H427.64V282.63M429.5 282.63V278.48H433.65M433.65 276.62H429.5V272.46" fill="none" stroke="#333" stroke-width="0.5625" />
<circle cx="428.57" cy="277.55" r="5.17" fill="none" stroke="#231815" stroke-width="0.8250000000000001" />
<rect x="423.4" y="271.7" width="10.34" height="18.9" rx="0" fill="none" stroke="#231815" stroke-width="0.75" />
<text x="428.57" y="289.46" font-size="7.2" font-weight="700" fill="#231815" text-anchor="middle" textLength="3.74" lengthAdjust="spacingAndGlyphs"  stroke="#231815" stroke-width="0.22">2</text>
<rect x="440.98" y="271.7" width="10.34" height="18.9" rx="0" fill="#fff" stroke="#231815" stroke-width="0.75" />
<line x1="440.98" y1="283.4" x2="451.31" y2="283.4" stroke="#231815" stroke-width="0.75" />
<rect x="440.98" y="271.7" width="10.34" height="11.7" rx="0" fill="#ececec" stroke="none" stroke-width="0" />
<circle cx="446.14" cy="277.55" r="5.17" fill="#fff" stroke="none" stroke-width="0" />
<path d="M445.21 272.46V276.62H441.06M441.06 278.48H445.21V282.63M447.07 282.63V278.48H451.23M451.23 276.62H447.07V272.46" fill="none" stroke="#333" stroke-width="0.5625" />
<circle cx="446.14" cy="277.55" r="5.17" fill="none" stroke="#231815" stroke-width="0.8250000000000001" />
<rect x="440.98" y="271.7" width="10.34" height="18.9" rx="0" fill="none" stroke="#231815" stroke-width="0.75" />
<text x="446.14" y="289.46" font-size="7.2" font-weight="700" fill="#231815" text-anchor="middle" textLength="3.74" lengthAdjust="spacingAndGlyphs"  stroke="#231815" stroke-width="0.22">3</text>
<rect x="458.55" y="271.7" width="10.34" height="18.9" rx="0" fill="#fff" stroke="#231815" stroke-width="0.75" />
<line x1="458.55" y1="283.4" x2="468.89" y2="283.4" stroke="#231815" stroke-width="0.75" />
<rect x="458.55" y="271.7" width="10.34" height="11.7" rx="0" fill="#ececec" stroke="none" stroke-width="0" />
<circle cx="463.72" cy="277.55" r="5.17" fill="#fff" stroke="none" stroke-width="0" />
<path d="M462.79 272.46V276.62H458.64M458.64 278.48H462.79V282.63M464.65 282.63V278.48H468.81M468.81 276.62H464.65V272.46" fill="none" stroke="#333" stroke-width="0.5625" />
<circle cx="463.72" cy="277.55" r="5.17" fill="none" stroke="#231815" stroke-width="0.8250000000000001" />
<rect x="458.55" y="271.7" width="10.34" height="18.9" rx="0" fill="none" stroke="#231815" stroke-width="0.75" />
<text x="463.72" y="289.46" font-size="7.2" font-weight="700" fill="#231815" text-anchor="middle" textLength="3.74" lengthAdjust="spacingAndGlyphs"  stroke="#231815" stroke-width="0.22">4</text>
<rect x="476.13" y="271.7" width="10.34" height="18.9" rx="0" fill="#fff" stroke="#231815" stroke-width="0.75" />
<line x1="476.13" y1="283.4" x2="486.47" y2="283.4" stroke="#231815" stroke-width="0.75" />
<rect x="476.13" y="271.7" width="10.34" height="11.7" rx="0" fill="#ececec" stroke="none" stroke-width="0" />
<circle cx="481.3" cy="277.55" r="5.17" fill="#fff" stroke="none" stroke-width="0" />
<path d="M480.37 272.46V276.62H476.22M476.22 278.48H480.37V282.63M482.23 282.63V278.48H486.38M486.38 276.62H482.23V272.46" fill="none" stroke="#333" stroke-width="0.5625" />
<circle cx="481.3" cy="277.55" r="5.17" fill="none" stroke="#231815" stroke-width="0.8250000000000001" />
<rect x="476.13" y="271.7" width="10.34" height="18.9" rx="0" fill="none" stroke="#231815" stroke-width="0.75" />
<text x="481.3" y="289.46" font-size="7.2" font-weight="700" fill="#231815" text-anchor="middle" textLength="3.74" lengthAdjust="spacingAndGlyphs"  stroke="#231815" stroke-width="0.22">5</text>
<rect x="493.71" y="271.7" width="10.34" height="18.9" rx="0" fill="#fff" stroke="#231815" stroke-width="0.75" />
<line x1="493.71" y1="283.4" x2="504.05" y2="283.4" stroke="#231815" stroke-width="0.75" />
<rect x="493.71" y="271.7" width="10.34" height="11.7" rx="0" fill="#ececec" stroke="none" stroke-width="0" />
<circle cx="498.88" cy="277.55" r="5.17" fill="#fff" stroke="none" stroke-width="0" />
<path d="M497.95 272.46V276.62H493.79M493.79 278.48H497.95V282.63M499.81 282.63V278.48H503.96M503.96 276.62H499.81V272.46" fill="none" stroke="#333" stroke-width="0.5625" />
<circle cx="498.88" cy="277.55" r="5.17" fill="none" stroke="#231815" stroke-width="0.8250000000000001" />
<rect x="493.71" y="271.7" width="10.34" height="18.9" rx="0" fill="none" stroke="#231815" stroke-width="0.75" />
<text x="498.88" y="289.46" font-size="7.2" font-weight="700" fill="#231815" text-anchor="middle" textLength="3.74" lengthAdjust="spacingAndGlyphs"  stroke="#231815" stroke-width="0.22">6</text>
<rect x="511.29" y="271.7" width="10.34" height="18.9" rx="0" fill="#fff" stroke="#231815" stroke-width="0.75" />
<line x1="511.29" y1="283.4" x2="521.62" y2="283.4" stroke="#231815" stroke-width="0.75" />
<rect x="511.29" y="271.7" width="10.34" height="11.7" rx="0" fill="#ececec" stroke="none" stroke-width="0" />
<circle cx="516.46" cy="277.55" r="5.17" fill="#fff" stroke="none" stroke-width="0" />
<path d="M515.53 272.46V276.62H511.37M511.37 278.48H515.53V282.63M517.39 282.63V278.48H521.54M521.54 276.62H517.39V272.46" fill="none" stroke="#333" stroke-width="0.5625" />
<circle cx="516.46" cy="277.55" r="5.17" fill="none" stroke="#231815" stroke-width="0.8250000000000001" />
<rect x="511.29" y="271.7" width="10.34" height="18.9" rx="0" fill="none" stroke="#231815" stroke-width="0.75" />
<text x="516.46" y="289.46" font-size="7.2" font-weight="700" fill="#231815" text-anchor="middle" textLength="3.74" lengthAdjust="spacingAndGlyphs"  stroke="#231815" stroke-width="0.22">7</text>
<rect x="528.87" y="271.7" width="10.34" height="18.9" rx="0" fill="#fff" stroke="#231815" stroke-width="0.75" />
<line x1="528.87" y1="283.4" x2="539.2" y2="283.4" stroke="#231815" stroke-width="0.75" />
<rect x="528.87" y="271.7" width="10.34" height="11.7" rx="0" fill="#ececec" stroke="none" stroke-width="0" />
<circle cx="534.03" cy="277.55" r="5.17" fill="#fff" stroke="none" stroke-width="0" />
<path d="M533.1 272.46V276.62H528.95M528.95 278.48H533.1V282.63M534.96 282.63V278.48H539.12M539.12 276.62H534.96V272.46" fill="none" stroke="#333" stroke-width="0.5625" />
<circle cx="534.03" cy="277.55" r="5.17" fill="none" stroke="#231815" stroke-width="0.8250000000000001" />
<rect x="528.87" y="271.7" width="10.34" height="18.9" rx="0" fill="none" stroke="#231815" stroke-width="0.75" />
<text x="534.03" y="289.46" font-size="7.2" font-weight="700" fill="#231815" text-anchor="middle" textLength="3.74" lengthAdjust="spacingAndGlyphs"  stroke="#231815" stroke-width="0.22">8</text>
<rect x="546.44" y="271.7" width="10.34" height="18.9" rx="0" fill="#fff" stroke="#231815" stroke-width="0.75" />
<line x1="546.44" y1="283.4" x2="556.78" y2="283.4" stroke="#231815" stroke-width="0.75" />
<rect x="546.44" y="271.7" width="10.34" height="11.7" rx="0" fill="#ececec" stroke="none" stroke-width="0" />
<circle cx="551.61" cy="277.55" r="5.17" fill="#fff" stroke="none" stroke-width="0" />
<path d="M550.68 272.46V276.62H546.53M546.53 278.48H550.68V282.63M552.54 282.63V278.48H556.7M556.7 276.62H552.54V272.46" fill="none" stroke="#333" stroke-width="0.5625" />
<circle cx="551.61" cy="277.55" r="5.17" fill="none" stroke="#231815" stroke-width="0.8250000000000001" />
<rect x="546.44" y="271.7" width="10.34" height="18.9" rx="0" fill="none" stroke="#231815" stroke-width="0.75" />
<text x="551.61" y="289.46" font-size="7.2" font-weight="700" fill="#231815" text-anchor="middle" textLength="3.74" lengthAdjust="spacingAndGlyphs"  stroke="#231815" stroke-width="0.22">9</text>
<rect x="564.02" y="271.7" width="10.34" height="18.9" rx="0" fill="#fff" stroke="#231815" stroke-width="0.75" />
<line x1="564.02" y1="283.4" x2="574.36" y2="283.4" stroke="#231815" stroke-width="0.75" />
<rect x="564.02" y="271.7" width="10.34" height="11.7" rx="0" fill="#ececec" stroke="none" stroke-width="0" />
<circle cx="569.19" cy="277.55" r="5.17" fill="#fff" stroke="none" stroke-width="0" />
<path d="M568.26 272.46V276.62H564.11M564.11 278.48H568.26V282.63M570.12 282.63V278.48H574.27M574.27 276.62H570.12V272.46" fill="none" stroke="#333" stroke-width="0.5625" />
<circle cx="569.19" cy="277.55" r="5.17" fill="none" stroke="#231815" stroke-width="0.8250000000000001" />
<rect x="564.02" y="271.7" width="10.34" height="18.9" rx="0" fill="none" stroke="#231815" stroke-width="0.75" />
<text x="569.19" y="289.46" font-size="7.2" font-weight="700" fill="#231815" text-anchor="middle" textLength="7.2" lengthAdjust="spacingAndGlyphs"  stroke="#231815" stroke-width="0.22">10</text>
<rect x="581.6" y="271.7" width="10.34" height="18.9" rx="0" fill="#fff" stroke="#231815" stroke-width="0.75" />
<line x1="581.6" y1="283.4" x2="591.94" y2="283.4" stroke="#231815" stroke-width="0.75" />
<rect x="581.6" y="271.7" width="10.34" height="11.7" rx="0" fill="#ececec" stroke="none" stroke-width="0" />
<circle cx="586.77" cy="277.55" r="5.17" fill="#fff" stroke="none" stroke-width="0" />
<path d="M585.84 272.46V276.62H581.68M581.68 278.48H585.84V282.63M587.7 282.63V278.48H591.85M591.85 276.62H587.7V272.46" fill="none" stroke="#333" stroke-width="0.5625" />
<circle cx="586.77" cy="277.55" r="5.17" fill="none" stroke="#231815" stroke-width="0.8250000000000001" />
<rect x="581.6" y="271.7" width="10.34" height="18.9" rx="0" fill="none" stroke="#231815" stroke-width="0.75" />
<text x="586.77" y="289.46" font-size="7.2" font-weight="700" fill="#231815" text-anchor="middle" textLength="7.2" lengthAdjust="spacingAndGlyphs"  stroke="#231815" stroke-width="0.22">11</text>
<rect x="599.18" y="271.7" width="10.34" height="18.9" rx="0" fill="#fff" stroke="#231815" stroke-width="0.75" />
<line x1="599.18" y1="283.4" x2="609.51" y2="283.4" stroke="#231815" stroke-width="0.75" />
<rect x="599.18" y="271.7" width="10.34" height="11.7" rx="0" fill="#ececec" stroke="none" stroke-width="0" />
<circle cx="604.35" cy="277.55" r="5.17" fill="#fff" stroke="none" stroke-width="0" />
<path d="M603.42 272.46V276.62H599.26M599.26 278.48H603.42V282.63M605.28 282.63V278.48H609.43M609.43 276.62H605.28V272.46" fill="none" stroke="#333" stroke-width="0.5625" />
<circle cx="604.35" cy="277.55" r="5.17" fill="none" stroke="#231815" stroke-width="0.8250000000000001" />
<rect x="599.18" y="271.7" width="10.34" height="18.9" rx="0" fill="none" stroke="#231815" stroke-width="0.75" />
<text x="604.35" y="289.46" font-size="7.2" font-weight="700" fill="#231815" text-anchor="middle" textLength="7.2" lengthAdjust="spacingAndGlyphs"  stroke="#231815" stroke-width="0.22">12</text>
<rect x="616.76" y="271.7" width="10.34" height="18.9" rx="0" fill="#fff" stroke="#231815" stroke-width="0.75" />
<line x1="616.76" y1="283.4" x2="627.09" y2="283.4" stroke="#231815" stroke-width="0.75" />
<rect x="616.76" y="271.7" width="10.34" height="11.7" rx="0" fill="#ececec" stroke="none" stroke-width="0" />
<circle cx="621.92" cy="277.55" r="5.17" fill="#fff" stroke="none" stroke-width="0" />
<path d="M620.99 272.46V276.62H616.84M616.84 278.48H620.99V282.63M622.85 282.63V278.48H627.01M627.01 276.62H622.85V272.46" fill="none" stroke="#333" stroke-width="0.5625" />
<circle cx="621.92" cy="277.55" r="5.17" fill="none" stroke="#231815" stroke-width="0.8250000000000001" />
<rect x="616.76" y="271.7" width="10.34" height="18.9" rx="0" fill="none" stroke="#231815" stroke-width="0.75" />
<text x="621.92" y="289.46" font-size="7.2" font-weight="700" fill="#231815" text-anchor="middle" textLength="7.2" lengthAdjust="spacingAndGlyphs"  stroke="#231815" stroke-width="0.22">13</text>
<rect x="634.33" y="271.7" width="10.34" height="18.9" rx="0" fill="#fff" stroke="#231815" stroke-width="0.75" />
<line x1="634.33" y1="283.4" x2="644.67" y2="283.4" stroke="#231815" stroke-width="0.75" />
<rect x="634.33" y="271.7" width="10.34" height="11.7" rx="0" fill="#ececec" stroke="none" stroke-width="0" />
<circle cx="639.5" cy="277.55" r="5.17" fill="#fff" stroke="none" stroke-width="0" />
<path d="M638.57 272.46V276.62H634.42M634.42 278.48H638.57V282.63M640.43 282.63V278.48H644.59M644.59 276.62H640.43V272.46" fill="none" stroke="#333" stroke-width="0.5625" />
<circle cx="639.5" cy="277.55" r="5.17" fill="none" stroke="#231815" stroke-width="0.8250000000000001" />
<rect x="634.33" y="271.7" width="10.34" height="18.9" rx="0" fill="none" stroke="#231815" stroke-width="0.75" />
<text x="639.5" y="289.46" font-size="7.2" font-weight="700" fill="#231815" text-anchor="middle" textLength="7.2" lengthAdjust="spacingAndGlyphs"  stroke="#231815" stroke-width="0.22">14</text>
<path d="M628.84 229.43 C621.02 228.68 620.68 221.07 626.46 221.07 L659.38 221.07" fill="none" stroke="#6a6665" stroke-width="0.72" stroke-dasharray="0.75 1.56"/>
<circle cx="630.41" cy="229.57" r="1.7" fill="#c9c9c9" stroke="#4a4645" stroke-width="0.6" />
<circle cx="630.41" cy="229.57" r="0.75" fill="#eee" stroke="#4a4645" stroke-width="0.48" />
<circle cx="661.35" cy="220.86" r="1.7" fill="#c9c9c9" stroke="#4a4645" stroke-width="0.6" />
<circle cx="661.35" cy="220.86" r="0.75" fill="#eee" stroke="#4a4645" stroke-width="0.48" />
<line x1="631.63" y1="230.79" x2="635.03" y2="233.78" stroke="#4a4645" stroke-width="0.78" />
<line x1="662.5" y1="222.09" x2="666.99" y2="225.22" stroke="#4a4645" stroke-width="0.78" />
<path d="M634.9 234.06 V232.76 Q635.3 230.25 638.02 230.25 Q640.88 230.25 641.22 232.76 V234.06Z" fill="#fff" stroke="#4a4645" stroke-width="0.6" />
<path d="M636.12 232.63 Q638.02 230.79 640 232.63" fill="none" stroke="#4a4645" stroke-width="0.54" />
<line x1="634.9" y1="233.51" x2="641.22" y2="233.51" stroke="#4a4645" stroke-width="0.84" />
<rect x="631.9" y="236.16" width="16.86" height="14.89" rx="0" fill="#fff" stroke="#4a4645" stroke-width="0.6" />
<rect x="634.62" y="234.06" width="14.14" height="2.11" rx="0" fill="#fff" stroke="#4a4645" stroke-width="0.6" />
<rect x="626.53" y="235.96" width="4.35" height="15.1" rx="1.09" fill="#fff" stroke="#4a4645" stroke-width="0.6" />
<line x1="626.53" y1="240.04" x2="630.88" y2="240.04" stroke="#4a4645" stroke-width="0.54" />
<line x1="626.53" y1="247.38" x2="630.88" y2="247.38" stroke="#4a4645" stroke-width="0.54" />
<line x1="631.36" y1="236.5" x2="631.36" y2="250.78" stroke="#a8a4a3" stroke-width="0.952" />
<path d="M648.77 230.72 L649.31 239.9 L648.63 250.78 L648.5 257.72 L655.3 265.27 L674 265.27 L681.2 257.72 L681.2 251.8" fill="#fff" stroke="#4a4645" stroke-width="0.6" />
<path d="M648.5 257.72 L681.2 257.72" fill="none" stroke="#4a4645" stroke-width="0.6" />
<rect x="655.3" y="265.27" width="18.7" height="10.27" rx="0" fill="#fff" stroke="#4a4645" stroke-width="0.6" />
<line x1="668.96" y1="265.74" x2="668.96" y2="275.26" stroke="#a8a4a3" stroke-width="1.02" />
<rect x="669.78" y="266.63" width="4.01" height="7.41" rx="0" fill="#fff" stroke="#4a4645" stroke-width="0.6" />
<line x1="670.26" y1="273.02" x2="673.38" y2="273.02" stroke="#a8a4a3" stroke-width="0.6" />
<circle cx="671.48" cy="270.16" r="0.68" fill="#4a4645" stroke="none" stroke-width="1" />
<rect x="658.56" y="275.54" width="10.95" height="85.54" rx="0" fill="#fff" stroke="none" stroke-width="0" />
<path d="M658.56 265.27 V359.99 Q658.7 361.35 660.8 360.94 Q663.18 360.26 665.22 361.08 Q669.17 361.62 669.44 359.58" fill="none" stroke="#4a4645" stroke-width="0.6" />
<line x1="669.17" y1="275.54" x2="669.17" y2="359.99" stroke="#8f8b8a" stroke-width="1.02" />
<line x1="663.12" y1="257.72" x2="663.12" y2="360.54" stroke="#8f8b8a" stroke-width="1.088" />
<line x1="660.6" y1="257.72" x2="660.6" y2="360.94" stroke="#4a4645" stroke-width="0.6" />
<line x1="666.31" y1="257.72" x2="666.31" y2="360.94" stroke="#4a4645" stroke-width="0.6" />
<path d="M653.53 257.72 L656.59 265.27" fill="none" stroke="#4a4645" stroke-width="0.6" />
<path d="M671.55 257.72 L669.17 265.27" fill="none" stroke="#4a4645" stroke-width="0.6" />
<path d="M656.59 253.1 L660.6 257.72" fill="none" stroke="#4a4645" stroke-width="0.6" />
<path d="M662.57 253.1 L662.78 257.72" fill="none" stroke="#4a4645" stroke-width="0.6" />
<path d="M669.17 253.1 L666.31 257.72" fill="none" stroke="#4a4645" stroke-width="0.6" />
<path d="M658.56 364.07 Q658.7 362.71 660.8 362.98 Q663.18 362.44 665.22 363.39 Q669.17 362.58 669.51 364.07 V389.1 A5.47 5.44 0 0 1 658.56 389.1Z" fill="#fff" stroke="#4a4645" stroke-width="0.6" />
<line x1="669.17" y1="363.66" x2="669.17" y2="388.82" stroke="#8f8b8a" stroke-width="1.02" />
<line x1="663.12" y1="362.98" x2="663.12" y2="390.66" stroke="#8f8b8a" stroke-width="1.088" />
<path d="M660.6 362.98 L660.6 390.66 L666.31 390.66 L666.31 389.37" fill="none" stroke="#4a4645" stroke-width="0.6" />
<path d="M666.31 363.39 L666.31 383.52" fill="none" stroke="#4a4645" stroke-width="0.6" />
<path d="M666.31 383.52 l0.82 0.61 l-1.77 1.02 l1.77 1.02 l-1.77 1.02 l1.77 1.02 l-0.82 0.61" fill="none" stroke="#4a4645" stroke-width="0.54" />
<g transform="translate(643.46 226.85) rotate(34.1) scale(0.68)" fill="#fff" stroke="#4a4645" stroke-width="0.88">
<path d="M5.5 -8.9 C6.5 -12 10 -14.6 17 -14.6 H56.599999999999994 C64.6 -14.6 68.6 -12 69.6 -8.9Z"/>
<line x1="9" y1="-11.6" x2="65.6" y2="-11.6" stroke-width="0.71"/>
<path d="M27.2 -14.6 V-18 Q27.6 -21.6 31.2 -21.6 Q34.8 -21.6 35.2 -18 V-14.6Z"/>
<path d="M28.6 -15.6 V-17.6 Q31.2 -20.2 33.8 -17.6 V-15.6Z" fill="#8d8d8d" stroke-width="0.71"/>
<rect x="40" y="-18.4" width="9.4" height="3.8"/>
<rect x="0" y="-8.9" width="73.6" height="8.9"/>
<line x1="0" y1="-7.3" x2="73.6" y2="-7.3" stroke-width="0.79"/>
<line x1="3.2" y1="-8.9" x2="3.2" y2="0" stroke-width="0.79"/>
<line x1="70.39999999999999" y1="-8.9" x2="70.39999999999999" y2="0" stroke-width="0.79"/>
<rect x="3.45" y="-7.3" width="9.1" height="7.3" rx="1.7" stroke-width="0.79"/>
<rect x="13.05" y="-7.3" width="9.1" height="7.3" rx="1.7" stroke-width="0.79"/>
<rect x="22.65" y="-7.3" width="9.1" height="7.3" rx="1.7" stroke-width="0.79"/>
<rect x="32.25" y="-7.3" width="9.1" height="7.3" rx="1.7" stroke-width="0.79"/>
<rect x="41.85" y="-7.3" width="9.1" height="7.3" rx="1.7" stroke-width="0.79"/>
<rect x="51.45" y="-7.3" width="9.1" height="7.3" rx="1.7" stroke-width="0.79"/>
<rect x="61.05" y="-7.3" width="9.1" height="7.3" rx="1.7" stroke-width="0.79"/>
</g>
<polyline points="411.3,277.5 411.3,213.9 601.4,213.9 601.4,241.26 661.89,241.26 669.03,252.82" fill="none" stroke="#e4007f" stroke-width="1.15" stroke-linejoin="miter" />
<polyline points="428,277.5 428,230.8 594.6,230.8 594.6,243.98 657.54,243.98 662.57,252.82" fill="none" stroke="#0aa0e6" stroke-width="1.15" stroke-linejoin="miter" />
<polyline points="445.7,277.5 445.7,246.84 654.68,246.84 656.59,252.82" fill="none" stroke="#0aa0e6" stroke-width="1.15" stroke-linejoin="miter" />
<circle cx="656.52" cy="252.82" r="1.1" fill="#231815" stroke="none" stroke-width="1" />
<circle cx="662.44" cy="252.82" r="1.1" fill="#231815" stroke="none" stroke-width="1" />
<circle cx="668.9" cy="252.82" r="1.1" fill="#231815" stroke="none" stroke-width="1" />
<text x="585.7" y="212.48" font-size="8" font-weight="700" fill="#231815" text-anchor="middle" textLength="3.6" lengthAdjust="spacingAndGlyphs"  stroke="#231815" stroke-width="0.22">A</text>
<text x="585.7" y="228.18" font-size="8" font-weight="700" fill="#231815" text-anchor="middle" textLength="3.6" lengthAdjust="spacingAndGlyphs"  stroke="#231815" stroke-width="0.22">B</text>
<text x="585.7" y="243.88" font-size="8" font-weight="700" fill="#231815" text-anchor="middle" textLength="3.6" lengthAdjust="spacingAndGlyphs"  stroke="#231815" stroke-width="0.22">B</text>
<text x="623.4" y="212" font-size="8.9" font-weight="700" fill="#231815" textLength="26" lengthAdjust="spacing"  stroke="#231815" stroke-width="0.22">三线制</text>
<text x="654.7" y="212.36" font-size="9.6" font-weight="700" fill="#231815" textLength="21.8" lengthAdjust="spacingAndGlyphs"  stroke="#231815" stroke-width="0.22">PT100</text>
<polyline points="516.3,290.6 516.3,412.7 729.6,412.7 729.6,515.6 712.6,515.6" fill="none" stroke="#0a9c47" stroke-width="1.3" stroke-linejoin="miter" />
<polyline points="534,290.6 534,421.3 720.5,421.3 720.5,506.8 712.6,506.8" fill="none" stroke="#0a9c47" stroke-width="1.3" stroke-linejoin="miter" />
<text x="511.5" y="298.12" font-size="7" font-weight="700" fill="#231815" text-anchor="middle"  stroke="#231815" stroke-width="0.22">−</text>
<text x="540" y="298.12" font-size="7" font-weight="700" fill="#231815" text-anchor="middle"  stroke="#231815" stroke-width="0.22">+</text>
<text x="517.3" y="306.42" font-size="8.4" font-weight="700" fill="#231815" textLength="14.6" lengthAdjust="spacingAndGlyphs"  stroke="#231815" stroke-width="0.22">mA/V</text>
<text x="537.6" y="308.34" font-size="7.6" font-weight="700" fill="#231815" textLength="29.6" lengthAdjust="spacing" stroke="#231815" stroke-width="0.2">控制输出</text>
<text x="624.3" y="303.64" font-size="7.6" font-weight="700" fill="#231815" textLength="14.8" lengthAdjust="spacing" stroke="#231815" stroke-width="0.2">仪表</text>
<text x="624.3" y="312.34" font-size="7.6" font-weight="700" fill="#231815" textLength="14.8" lengthAdjust="spacing" stroke="#231815" stroke-width="0.2">供电</text>
<rect x="509.1" y="432.4" width="181.4" height="121.6" rx="0" fill="#fefefe" stroke="#3e3a39" stroke-width="0.9" />
<rect x="499.5" y="440.1" width="9.6" height="106.4" rx="0" fill="#fff" stroke="#2b2726" stroke-width="0.9" />
<text x="504.4" y="447.72" font-size="8.8" font-weight="700" fill="#231815" text-anchor="middle" textLength="7" lengthAdjust="spacingAndGlyphs" transform="rotate(90 504.4 444.55)"  stroke="#231815" stroke-width="0.22">24</text>
<line x1="499.5" y1="448.97" x2="509.1" y2="448.97" stroke="#2b2726" stroke-width="0.8" />
<text x="504.4" y="456.59" font-size="8.8" font-weight="700" fill="#231815" text-anchor="middle" textLength="7" lengthAdjust="spacingAndGlyphs" transform="rotate(90 504.4 453.42)"  stroke="#231815" stroke-width="0.22">23</text>
<line x1="499.5" y1="457.84" x2="509.1" y2="457.84" stroke="#2b2726" stroke-width="0.8" />
<text x="504.4" y="465.46" font-size="8.8" font-weight="700" fill="#231815" text-anchor="middle" textLength="7" lengthAdjust="spacingAndGlyphs" transform="rotate(90 504.4 462.29)"  stroke="#231815" stroke-width="0.22">22</text>
<line x1="499.5" y1="466.71" x2="509.1" y2="466.71" stroke="#2b2726" stroke-width="0.8" />
<text x="504.4" y="474.33" font-size="8.8" font-weight="700" fill="#231815" text-anchor="middle" textLength="7" lengthAdjust="spacingAndGlyphs" transform="rotate(90 504.4 471.16)"  stroke="#231815" stroke-width="0.22">21</text>
<line x1="499.5" y1="475.58" x2="509.1" y2="475.58" stroke="#2b2726" stroke-width="0.8" />
<text x="504.4" y="483.2" font-size="8.8" font-weight="700" fill="#231815" text-anchor="middle" textLength="7" lengthAdjust="spacingAndGlyphs" transform="rotate(90 504.4 480.03)"  stroke="#231815" stroke-width="0.22">20</text>
<line x1="499.5" y1="484.45" x2="509.1" y2="484.45" stroke="#2b2726" stroke-width="0.8" />
<text x="504.4" y="492.07" font-size="8.8" font-weight="700" fill="#231815" text-anchor="middle" textLength="7" lengthAdjust="spacingAndGlyphs" transform="rotate(90 504.4 488.9)"  stroke="#231815" stroke-width="0.22">19</text>
<line x1="499.5" y1="493.32" x2="509.1" y2="493.32" stroke="#2b2726" stroke-width="0.8" />
<text x="504.4" y="500.94" font-size="8.8" font-weight="700" fill="#231815" text-anchor="middle" textLength="7" lengthAdjust="spacingAndGlyphs" transform="rotate(90 504.4 497.77)"  stroke="#231815" stroke-width="0.22">18</text>
<line x1="499.5" y1="502.19" x2="509.1" y2="502.19" stroke="#2b2726" stroke-width="0.8" />
<text x="504.4" y="509.81" font-size="8.8" font-weight="700" fill="#231815" text-anchor="middle" textLength="7" lengthAdjust="spacingAndGlyphs" transform="rotate(90 504.4 506.64)"  stroke="#231815" stroke-width="0.22">17</text>
<line x1="499.5" y1="511.06" x2="509.1" y2="511.06" stroke="#2b2726" stroke-width="0.8" />
<text x="504.4" y="518.68" font-size="8.8" font-weight="700" fill="#231815" text-anchor="middle" textLength="7" lengthAdjust="spacingAndGlyphs" transform="rotate(90 504.4 515.51)"  stroke="#231815" stroke-width="0.22">16</text>
<line x1="499.5" y1="519.93" x2="509.1" y2="519.93" stroke="#2b2726" stroke-width="0.8" />
<text x="504.4" y="527.55" font-size="8.8" font-weight="700" fill="#231815" text-anchor="middle" textLength="7" lengthAdjust="spacingAndGlyphs" transform="rotate(90 504.4 524.38)"  stroke="#231815" stroke-width="0.22">15</text>
<line x1="499.5" y1="528.8" x2="509.1" y2="528.8" stroke="#2b2726" stroke-width="0.8" />
<text x="504.4" y="536.42" font-size="8.8" font-weight="700" fill="#231815" text-anchor="middle" textLength="7" lengthAdjust="spacingAndGlyphs" transform="rotate(90 504.4 533.25)"  stroke="#231815" stroke-width="0.22">14</text>
<line x1="499.5" y1="537.67" x2="509.1" y2="537.67" stroke="#2b2726" stroke-width="0.8" />
<text x="504.4" y="545.29" font-size="8.8" font-weight="700" fill="#231815" text-anchor="middle" textLength="7" lengthAdjust="spacingAndGlyphs" transform="rotate(90 504.4 542.12)"  stroke="#231815" stroke-width="0.22">13</text>
<rect x="690.5" y="440.1" width="8.8" height="106.4" rx="0" fill="#fff" stroke="#2b2726" stroke-width="0.9" />
<text x="695" y="447.72" font-size="8.8" font-weight="700" fill="#231815" text-anchor="middle" textLength="7" lengthAdjust="spacingAndGlyphs" transform="rotate(90 695 444.55)"  stroke="#231815" stroke-width="0.22">12</text>
<line x1="690.5" y1="448.97" x2="699.3" y2="448.97" stroke="#2b2726" stroke-width="0.8" />
<text x="695" y="456.59" font-size="8.8" font-weight="700" fill="#231815" text-anchor="middle" textLength="7" lengthAdjust="spacingAndGlyphs" transform="rotate(90 695 453.42)"  stroke="#231815" stroke-width="0.22">11</text>
<line x1="690.5" y1="457.84" x2="699.3" y2="457.84" stroke="#2b2726" stroke-width="0.8" />
<text x="695" y="465.46" font-size="8.8" font-weight="700" fill="#231815" text-anchor="middle" textLength="7" lengthAdjust="spacingAndGlyphs" transform="rotate(90 695 462.29)"  stroke="#231815" stroke-width="0.22">10</text>
<line x1="690.5" y1="466.71" x2="699.3" y2="466.71" stroke="#2b2726" stroke-width="0.8" />
<text x="695" y="474.33" font-size="8.8" font-weight="700" fill="#231815" text-anchor="middle" textLength="3.5" lengthAdjust="spacingAndGlyphs" transform="rotate(90 695 471.16)"  stroke="#231815" stroke-width="0.22">9</text>
<line x1="690.5" y1="475.58" x2="699.3" y2="475.58" stroke="#2b2726" stroke-width="0.8" />
<text x="695" y="483.2" font-size="8.8" font-weight="700" fill="#231815" text-anchor="middle" textLength="3.5" lengthAdjust="spacingAndGlyphs" transform="rotate(90 695 480.03)"  stroke="#231815" stroke-width="0.22">8</text>
<line x1="690.5" y1="484.45" x2="699.3" y2="484.45" stroke="#2b2726" stroke-width="0.8" />
<text x="695" y="492.07" font-size="8.8" font-weight="700" fill="#231815" text-anchor="middle" textLength="3.5" lengthAdjust="spacingAndGlyphs" transform="rotate(90 695 488.9)"  stroke="#231815" stroke-width="0.22">7</text>
<line x1="690.5" y1="493.32" x2="699.3" y2="493.32" stroke="#2b2726" stroke-width="0.8" />
<text x="695" y="500.94" font-size="8.8" font-weight="700" fill="#231815" text-anchor="middle" textLength="3.5" lengthAdjust="spacingAndGlyphs" transform="rotate(90 695 497.77)"  stroke="#231815" stroke-width="0.22">6</text>
<line x1="690.5" y1="502.19" x2="699.3" y2="502.19" stroke="#2b2726" stroke-width="0.8" />
<text x="695" y="509.81" font-size="8.8" font-weight="700" fill="#231815" text-anchor="middle" textLength="3.5" lengthAdjust="spacingAndGlyphs" transform="rotate(90 695 506.64)"  stroke="#231815" stroke-width="0.22">5</text>
<line x1="690.5" y1="511.06" x2="699.3" y2="511.06" stroke="#2b2726" stroke-width="0.8" />
<text x="695" y="518.68" font-size="8.8" font-weight="700" fill="#231815" text-anchor="middle" textLength="3.5" lengthAdjust="spacingAndGlyphs" transform="rotate(90 695 515.51)"  stroke="#231815" stroke-width="0.22">4</text>
<line x1="690.5" y1="519.93" x2="699.3" y2="519.93" stroke="#2b2726" stroke-width="0.8" />
<text x="695" y="527.55" font-size="8.8" font-weight="700" fill="#231815" text-anchor="middle" textLength="3.5" lengthAdjust="spacingAndGlyphs" transform="rotate(90 695 524.38)"  stroke="#231815" stroke-width="0.22">3</text>
<line x1="690.5" y1="528.8" x2="699.3" y2="528.8" stroke="#2b2726" stroke-width="0.8" />
<text x="695" y="536.42" font-size="8.8" font-weight="700" fill="#231815" text-anchor="middle" textLength="3.5" lengthAdjust="spacingAndGlyphs" transform="rotate(90 695 533.25)"  stroke="#231815" stroke-width="0.22">2</text>
<line x1="690.5" y1="537.67" x2="699.3" y2="537.67" stroke="#2b2726" stroke-width="0.8" />
<text x="695" y="545.29" font-size="8.8" font-weight="700" fill="#231815" text-anchor="middle" textLength="3.5" lengthAdjust="spacingAndGlyphs" transform="rotate(90 695 542.12)"  stroke="#231815" stroke-width="0.22">1</text>
<path d="M512 444.1 H533 Q536.5 493 533 542.3 H512 Z" fill="#fff" stroke="#3e3a39" stroke-width="0.8" />
<path d="M687.4 444.1 H666.6 Q663.2 493 666.6 542.3 H687.4 Z" fill="#fff" stroke="#3e3a39" stroke-width="0.8" />
<circle cx="599.2" cy="493" r="52.4" fill="#fff" stroke="#3e3a39" stroke-width="0.9" />
<path d="M618.2 448.5 A48.4 48.4 0 0 1 618.2 537.5 H610.4 Q609.1 537.5 609.1 536.2 V535 A9.9 9.9 0 0 0 589.3 535 V536.2 Q589.3 537.5 588 537.5 H580.2 A48.4 48.4 0 0 1 580.2 448.5 H588 Q589.3 448.5 589.3 449.8 V451.3 A9.9 9.9 0 0 0 609.1 451.3 V449.8 Q609.1 448.5 610.4 448.5 Z" fill="#fff" stroke="#3e3a39" stroke-width="0.85" />
<circle cx="599.2" cy="452" r="5.4" fill="#fff" stroke="#3e3a39" stroke-width="0.8" />
<circle cx="599.2" cy="452" r="3.1" fill="#fff" stroke="#3e3a39" stroke-width="0.8" />
<circle cx="599.2" cy="534.5" r="5.4" fill="#fff" stroke="#3e3a39" stroke-width="0.8" />
<circle cx="599.2" cy="534.5" r="3.1" fill="#fff" stroke="#3e3a39" stroke-width="0.8" />
<circle cx="610.9" cy="468.7" r="2.7" fill="#fff" stroke="#3e3a39" stroke-width="0.75" />
<circle cx="610.9" cy="482.9" r="2.7" fill="#fff" stroke="#3e3a39" stroke-width="0.75" />
<text x="602.3" y="470" font-size="5" font-weight="700" fill="#231815" text-anchor="middle" transform="rotate(90 602.3 468.2)"  stroke="#231815" stroke-width="0.22">运行</text>
<text x="602.3" y="485.2" font-size="5" font-weight="700" fill="#231815" text-anchor="middle" transform="rotate(90 602.3 483.4)"  stroke="#231815" stroke-width="0.22">报警</text>
<text x="622" y="497.53" font-size="6.2" font-weight="700" fill="#333" text-anchor="middle" transform="rotate(90 622 495.3)"  stroke="#333" stroke-width="0.22">红润</text>
<circle cx="632.7" cy="495" r="6.2" fill="#fff" stroke="#e60012" stroke-width="1.1" />
<path d="M629.2 497.4 A4.2 4.2 0 1 1 636.4 496.6 A3.1 3.1 0 1 0 629.2 497.4Z" fill="#e60012" stroke="none" stroke-width="0" />
<text x="633.2" y="497.34" font-size="2.6" font-weight="700" fill="#e60012" text-anchor="middle" >红润</text>
<text x="702" y="504.34" font-size="7.6" font-weight="700" fill="#231815" textLength="13.2" lengthAdjust="spacingAndGlyphs"  stroke="#231815" stroke-width="0.22">IN1+</text>
<text x="701.5" y="524.34" font-size="7.6" font-weight="700" fill="#231815" textLength="10.6" lengthAdjust="spacingAndGlyphs"  stroke="#231815" stroke-width="0.22">GND</text>
<text x="705.2" y="532.34" font-size="7.6" font-weight="700" fill="#231815" text-anchor="middle" textLength="3.4" lengthAdjust="spacingAndGlyphs"  stroke="#231815" stroke-width="0.22">L</text>
<text x="705.4" y="549.44" font-size="7.6" font-weight="700" fill="#231815" text-anchor="middle" textLength="3.8" lengthAdjust="spacingAndGlyphs"  stroke="#231815" stroke-width="0.22">N</text>
<text x="713.3" y="540.19" font-size="8.3" font-weight="700" fill="#231815" textLength="22.6" lengthAdjust="spacingAndGlyphs"  stroke="#231815" stroke-width="0.22">AC220V</text>
<line x1="699.2" y1="506.8" x2="709.6" y2="506.8" stroke="#231815" stroke-width="0.85" />
<circle cx="711" cy="506.8" r="1.55" fill="#fff" stroke="#231815" stroke-width="0.75" />
<line x1="699.2" y1="515.6" x2="709.6" y2="515.6" stroke="#231815" stroke-width="0.85" />
<circle cx="711" cy="515.6" r="1.55" fill="#fff" stroke="#231815" stroke-width="0.75" />
<line x1="699.2" y1="532.8" x2="709.6" y2="532.8" stroke="#231815" stroke-width="0.85" />
<circle cx="711" cy="532.8" r="1.55" fill="#fff" stroke="#231815" stroke-width="0.75" />
<line x1="699.2" y1="541.7" x2="709.6" y2="541.7" stroke="#231815" stroke-width="0.85" />
<circle cx="711" cy="541.7" r="1.55" fill="#fff" stroke="#231815" stroke-width="0.75" />
<line x1="692.8" y1="254.5" x2="692.8" y2="403.9" stroke="#8e8e8e" stroke-width="1.1" stroke-dasharray="6.7 7.3 8.9 9.7 8.9 9.7 8.9 9.7 8.9 9.7 8.9 9.7 8.9 9.7 8.9 9.7 6"/>
<line x1="752.8" y1="254.5" x2="752.8" y2="403.9" stroke="#8e8e8e" stroke-width="1.1" stroke-dasharray="6.7 7.3 8.9 9.7 8.9 9.7 8.9 9.7 8.9 9.7 8.9 9.7 8.9 9.7 8.9 9.7 6"/>
<line x1="692.3" y1="254.5" x2="753.3" y2="254.5" stroke="#8e8e8e" stroke-width="1.1" stroke-dasharray="4.6 10.5 10 10.6 10 10.6 5"/>
<line x1="692.3" y1="403.9" x2="753.3" y2="403.9" stroke="#8e8e8e" stroke-width="1.1" stroke-dasharray="4.6 10.5 10 10.6 10 10.6 5"/>
<text x="697.6" y="266.16" font-size="7.4" font-weight="700" fill="#231815" textLength="29.4" lengthAdjust="spacing"  stroke="#231815" stroke-width="0.22">工作电源</text>
<rect x="709.84" y="270.1" width="11.26" height="11.6" rx="0" fill="#e4e4e4" stroke="none" stroke-width="0" />
<circle cx="715.47" cy="275.9" r="5.16" fill="#fff" stroke="none" stroke-width="0" />
<path d="M714.54 270.82V274.97H710.39M710.39 276.83H714.54V280.98M716.4 280.98V276.83H720.55M720.55 274.97H716.4V270.82" fill="none" stroke="#3a3a3a" stroke-width="0.5599999999999999" />
<circle cx="715.47" cy="275.9" r="5.16" fill="none" stroke="#231815" stroke-width="0.735" />
<rect x="709.84" y="270.1" width="11.26" height="11.6" rx="0" fill="none" stroke="#231815" stroke-width="0.7" />
<line x1="698.4" y1="270.1" x2="721.1" y2="270.1" stroke="#231815" stroke-width="0.8049999999999999" />
<line x1="698.4" y1="281.7" x2="721.1" y2="281.7" stroke="#231815" stroke-width="0.8049999999999999" />
<line x1="707.08" y1="270.1" x2="707.08" y2="281.7" stroke="#231815" stroke-width="0.7" />
<text x="702.96" y="278.28" font-size="6.2" font-weight="700" fill="#231815" text-anchor="middle" textLength="6.2" lengthAdjust="spacingAndGlyphs" stroke="#231815" stroke-width="0.18">13</text>
<rect x="709.82" y="283.2" width="11.28" height="11.5" rx="0" fill="#e4e4e4" stroke="none" stroke-width="0" />
<circle cx="715.46" cy="288.95" r="5.12" fill="#fff" stroke="none" stroke-width="0" />
<path d="M714.54 283.92V288.03H710.42M710.42 289.87H714.54V293.98M716.38 293.98V289.87H720.49M720.49 288.03H716.38V283.92" fill="none" stroke="#3a3a3a" stroke-width="0.5599999999999999" />
<circle cx="715.46" cy="288.95" r="5.12" fill="none" stroke="#231815" stroke-width="0.735" />
<rect x="709.82" y="283.2" width="11.28" height="11.5" rx="0" fill="none" stroke="#231815" stroke-width="0.7" />
<line x1="698.4" y1="283.2" x2="721.1" y2="283.2" stroke="#231815" stroke-width="0.8049999999999999" />
<line x1="698.4" y1="294.7" x2="721.1" y2="294.7" stroke="#231815" stroke-width="0.8049999999999999" />
<line x1="707.08" y1="283.2" x2="707.08" y2="294.7" stroke="#231815" stroke-width="0.7" />
<text x="702.96" y="291.33" font-size="6.2" font-weight="700" fill="#231815" text-anchor="middle" textLength="6.2" lengthAdjust="spacingAndGlyphs" stroke="#231815" stroke-width="0.18">14</text>
<line x1="721.4" y1="276" x2="732.6" y2="276" stroke="#231815" stroke-width="0.6" />
<circle cx="733.6" cy="276" r="1" fill="#fff" stroke="#231815" stroke-width="0.6" />
<line x1="721.4" y1="288.7" x2="732.6" y2="288.7" stroke="#231815" stroke-width="0.6" />
<circle cx="733.6" cy="288.7" r="1" fill="#fff" stroke="#231815" stroke-width="0.6" />
<text x="727.5" y="274.72" font-size="7" font-weight="700" fill="#231815" text-anchor="middle" textLength="3.3" lengthAdjust="spacingAndGlyphs"  stroke="#231815" stroke-width="0.22">L</text>
<text x="727.7" y="296.12" font-size="7" font-weight="700" fill="#231815" text-anchor="middle" textLength="3.6" lengthAdjust="spacingAndGlyphs"  stroke="#231815" stroke-width="0.22">N</text>
<text x="725.7" y="285.28" font-size="8" font-weight="700" fill="#231815" textLength="22.2" lengthAdjust="spacingAndGlyphs"  stroke="#231815" stroke-width="0.22">AC220V</text>
<text x="697.8" y="311.53" font-size="7.3" font-weight="700" fill="#231815" textLength="29.2" lengthAdjust="spacing"  stroke="#231815" stroke-width="0.22">控制输出</text>
<text x="729.6" y="311.33" font-size="7.3" font-weight="700" fill="#231815" textLength="10.6" lengthAdjust="spacingAndGlyphs"  stroke="#231815" stroke-width="0.22">OUT</text>
<rect x="709.94" y="316" width="11.16" height="10.7" rx="0" fill="#e4e4e4" stroke="none" stroke-width="0" />
<circle cx="715.52" cy="321.35" r="4.76" fill="#fff" stroke="none" stroke-width="0" />
<path d="M714.66 316.67V320.49H710.84M710.84 322.21H714.66V326.03M716.38 326.03V322.21H720.2M720.2 320.49H716.38V316.67" fill="none" stroke="#3a3a3a" stroke-width="0.5599999999999999" />
<circle cx="715.52" cy="321.35" r="4.76" fill="none" stroke="#231815" stroke-width="0.735" />
<rect x="709.94" y="316" width="11.16" height="10.7" rx="0" fill="none" stroke="#231815" stroke-width="0.7" />
<line x1="699" y1="316" x2="721.1" y2="316" stroke="#231815" stroke-width="0.8049999999999999" />
<line x1="699" y1="326.7" x2="721.1" y2="326.7" stroke="#231815" stroke-width="0.8049999999999999" />
<line x1="707.4" y1="316" x2="707.4" y2="326.7" stroke="#231815" stroke-width="0.7" />
<text x="703.4" y="323.86" font-size="6.6" font-weight="700" fill="#231815" text-anchor="middle" textLength="3.3" lengthAdjust="spacingAndGlyphs" stroke="#231815" stroke-width="0.17">7</text>
<rect x="709.98" y="328" width="11.12" height="10.9" rx="0" fill="#e4e4e4" stroke="none" stroke-width="0" />
<circle cx="715.54" cy="333.45" r="4.85" fill="#fff" stroke="none" stroke-width="0" />
<path d="M714.67 328.68V332.58H710.77M710.77 334.32H714.67V338.22M716.42 338.22V334.32H720.31M720.31 332.58H716.42V328.68" fill="none" stroke="#3a3a3a" stroke-width="0.5599999999999999" />
<circle cx="715.54" cy="333.45" r="4.85" fill="none" stroke="#231815" stroke-width="0.735" />
<rect x="709.98" y="328" width="11.12" height="10.9" rx="0" fill="none" stroke="#231815" stroke-width="0.7" />
<line x1="699" y1="328" x2="721.1" y2="328" stroke="#231815" stroke-width="0.8049999999999999" />
<line x1="699" y1="338.9" x2="721.1" y2="338.9" stroke="#231815" stroke-width="0.8049999999999999" />
<line x1="707.4" y1="328" x2="707.4" y2="338.9" stroke="#231815" stroke-width="0.7" />
<text x="703.4" y="335.96" font-size="6.6" font-weight="700" fill="#231815" text-anchor="middle" textLength="3.3" lengthAdjust="spacingAndGlyphs" stroke="#231815" stroke-width="0.17">8</text>
<line x1="721.4" y1="322" x2="730" y2="322" stroke="#231815" stroke-width="0.6" />
<circle cx="730.4" cy="322" r="0.7" fill="#231815" stroke="none" stroke-width="1" />
<line x1="721.4" y1="333.4" x2="730" y2="333.4" stroke="#231815" stroke-width="0.6" />
<circle cx="730.4" cy="333.4" r="0.7" fill="#231815" stroke="none" stroke-width="1" />
<text x="726.5" y="320.16" font-size="6" font-weight="700" fill="#231815" text-anchor="middle"  stroke="#231815" stroke-width="0.22">−</text>
<text x="727" y="339.56" font-size="6" font-weight="700" fill="#231815" text-anchor="middle"  stroke="#231815" stroke-width="0.22">+</text>
<text x="731.2" y="330.35" font-size="8.2" font-weight="700" fill="#231815" textLength="15" lengthAdjust="spacingAndGlyphs"  stroke="#231815" stroke-width="0.22">mA/V</text>
<text x="699" y="355.33" font-size="7.3" font-weight="700" fill="#231815" textLength="37.3" lengthAdjust="spacing"  stroke="#231815" stroke-width="0.22">热电阻输入</text>
<rect x="711.16" y="359.8" width="12.44" height="11.7" rx="0" fill="#e4e4e4" stroke="none" stroke-width="0" />
<circle cx="717.38" cy="365.65" r="5.21" fill="#fff" stroke="none" stroke-width="0" />
<path d="M716.44 360.53V364.71H712.26M712.26 366.59H716.44V370.77M718.32 370.77V366.59H722.5M722.5 364.71H718.32V360.53" fill="none" stroke="#3a3a3a" stroke-width="0.5599999999999999" />
<circle cx="717.38" cy="365.65" r="5.21" fill="none" stroke="#231815" stroke-width="0.735" />
<rect x="711.16" y="359.8" width="12.44" height="11.7" rx="0" fill="none" stroke="#231815" stroke-width="0.7" />
<line x1="699" y1="359.8" x2="723.6" y2="359.8" stroke="#231815" stroke-width="0.8049999999999999" />
<line x1="699" y1="371.5" x2="723.6" y2="371.5" stroke="#231815" stroke-width="0.8049999999999999" />
<line x1="708.38" y1="359.8" x2="708.38" y2="371.5" stroke="#231815" stroke-width="0.7" />
<text x="703.91" y="368.28" font-size="6.9" font-weight="700" fill="#231815" text-anchor="middle" textLength="3.45" lengthAdjust="spacingAndGlyphs" stroke="#231815" stroke-width="0.18">1</text>
<rect x="711.16" y="373" width="12.44" height="11.7" rx="0" fill="#e4e4e4" stroke="none" stroke-width="0" />
<circle cx="717.38" cy="378.85" r="5.21" fill="#fff" stroke="none" stroke-width="0" />
<path d="M716.44 373.73V377.91H712.26M712.26 379.79H716.44V383.97M718.32 383.97V379.79H722.5M722.5 377.91H718.32V373.73" fill="none" stroke="#3a3a3a" stroke-width="0.5599999999999999" />
<circle cx="717.38" cy="378.85" r="5.21" fill="none" stroke="#231815" stroke-width="0.735" />
<rect x="711.16" y="373" width="12.44" height="11.7" rx="0" fill="none" stroke="#231815" stroke-width="0.7" />
<line x1="699" y1="373" x2="723.6" y2="373" stroke="#231815" stroke-width="0.8049999999999999" />
<line x1="699" y1="384.7" x2="723.6" y2="384.7" stroke="#231815" stroke-width="0.8049999999999999" />
<line x1="708.38" y1="373" x2="708.38" y2="384.7" stroke="#231815" stroke-width="0.7" />
<text x="703.91" y="381.48" font-size="6.9" font-weight="700" fill="#231815" text-anchor="middle" textLength="3.45" lengthAdjust="spacingAndGlyphs" stroke="#231815" stroke-width="0.18">2</text>
<rect x="711.16" y="386.1" width="12.44" height="11.7" rx="0" fill="#e4e4e4" stroke="none" stroke-width="0" />
<circle cx="717.38" cy="391.95" r="5.21" fill="#fff" stroke="none" stroke-width="0" />
<path d="M716.44 386.83V391.01H712.26M712.26 392.89H716.44V397.07M718.32 397.07V392.89H722.5M722.5 391.01H718.32V386.83" fill="none" stroke="#3a3a3a" stroke-width="0.5599999999999999" />
<circle cx="717.38" cy="391.95" r="5.21" fill="none" stroke="#231815" stroke-width="0.735" />
<rect x="711.16" y="386.1" width="12.44" height="11.7" rx="0" fill="none" stroke="#231815" stroke-width="0.7" />
<line x1="699" y1="386.1" x2="723.6" y2="386.1" stroke="#231815" stroke-width="0.8049999999999999" />
<line x1="699" y1="397.8" x2="723.6" y2="397.8" stroke="#231815" stroke-width="0.8049999999999999" />
<line x1="708.38" y1="386.1" x2="708.38" y2="397.8" stroke="#231815" stroke-width="0.7" />
<text x="703.91" y="394.58" font-size="6.9" font-weight="700" fill="#231815" text-anchor="middle" textLength="3.45" lengthAdjust="spacingAndGlyphs" stroke="#231815" stroke-width="0.18">3</text>
<polyline points="724,364.6 730.2,364.6 730.2,368.4" fill="none" stroke="#231815" stroke-width="0.7" stroke-linejoin="miter" />
<rect x="728.8" y="368.4" width="2.9" height="9.6" rx="0" fill="#fff" stroke="#231815" stroke-width="0.7" />
<polyline points="730.2,378 730.2,391.8 724,391.8" fill="none" stroke="#231815" stroke-width="0.7" stroke-linejoin="miter" />
<polyline points="724,378.8 726.6,378.8 726.6,385.4 730.2,385.4" fill="none" stroke="#231815" stroke-width="0.7" stroke-linejoin="miter" />
<text x="732.6" y="379.88" font-size="6.6" font-weight="700" fill="#231815" textLength="10" lengthAdjust="spacingAndGlyphs"  stroke="#231815" stroke-width="0.22">RTD</text>
<text x="279.2" y="627.82" font-size="9.5" font-weight="500" fill="#231815" textLength="162.2" lengthAdjust="spacing" >2个单向可控硅反并联（2和3短接）</text>
<text x="59.4" y="773.31" font-size="12.8" font-weight="500" fill="#231815" textLength="38.8" lengthAdjust="spacing" >电源端</text>
<text x="109.8" y="773.21" font-size="12.8" font-weight="400" fill="#231815" textLength="38.6" lengthAdjust="spacingAndGlyphs" stroke="#231815" stroke-width="0.4">AC220V</text>
<text x="62.8" y="795.14" font-size="12.9" font-weight="700" fill="#e60012" text-anchor="middle" textLength="5.6" lengthAdjust="spacingAndGlyphs" >L</text>
<text x="62.8" y="823.04" font-size="12.9" font-weight="700" fill="#231815" text-anchor="middle" textLength="6" lengthAdjust="spacingAndGlyphs" >N</text>
<line x1="73" y1="791.3" x2="726.8" y2="791.3" stroke="#e60012" stroke-width="1.6" />
<line x1="73" y1="818.2" x2="726.8" y2="818.2" stroke="#231815" stroke-width="1.6" />
<polyline points="126.1,1136.2 60.1,1136.2 60.1,1268.8 371,1268.8 371,1209.6" fill="none" stroke="#e60012" stroke-width="1.6" stroke-linejoin="miter" />
<polyline points="186.1,1136.2 371,1136.2 371,1185.1" fill="none" stroke="#231815" stroke-width="1.4" stroke-linejoin="miter" />
<rect x="77.3" y="1158.5" width="256.7" height="74.9" rx="0" fill="#fdfdfd" stroke="#2e2a29" stroke-width="1.2" />
<line x1="79.9" y1="1158.5" x2="79.9" y2="1233.4" stroke="#8a8a8a" stroke-width="0.96" />
<rect x="109.9" y="1158.5" width="1.9" height="74.9" rx="0" fill="#ddd" stroke="#4a4a4a" stroke-width="0.84" />
<circle cx="94.9" cy="1196.3" r="12.2" fill="#fff" stroke="#d0d0d0" stroke-width="2.1999999999999997" />
<rect x="118.3" y="1180.8" width="32" height="33.6" rx="0" fill="#fff" stroke="#231815" stroke-width="1.02" />
<rect x="176.7" y="1180.8" width="32" height="33.6" rx="0" fill="#fff" stroke="none" stroke-width="0" />
<rect x="235.3" y="1180.8" width="32" height="33.6" rx="0" fill="#fff" stroke="none" stroke-width="0" />
<rect x="173.8" y="1182.5" width="96" height="30.3" rx="15.1" fill="#8d8d8d" stroke="none" stroke-width="0" />
<circle cx="134.3" cy="1197.5" r="13.4" fill="#fff" stroke="none" stroke-width="0" />
<path d="M131.89 1184.32V1195.09H121.12M121.12 1199.91H131.89V1210.68M136.71 1210.68V1199.91H147.48M147.48 1195.09H136.71V1184.32" fill="none" stroke="#231815" stroke-width="0.9689999999999999" />
<circle cx="134.3" cy="1197.5" r="13.4" fill="none" stroke="#231815" stroke-width="1.14" />
<rect x="176.7" y="1180.8" width="32" height="33.6" rx="0" fill="none" stroke="#231815" stroke-width="1.02" />
<circle cx="192.7" cy="1197.5" r="13.4" fill="none" stroke="none" stroke-width="0" />
<path d="M190.29 1184.32V1195.09H179.52M179.52 1199.91H190.29V1210.68M195.11 1210.68V1199.91H205.88M205.88 1195.09H195.11V1184.32" fill="none" stroke="#231815" stroke-width="0.9689999999999999" />
<circle cx="192.7" cy="1197.5" r="13.4" fill="none" stroke="#231815" stroke-width="1.14" />
<rect x="235.3" y="1180.8" width="32" height="33.6" rx="0" fill="none" stroke="#231815" stroke-width="1.02" />
<circle cx="251.3" cy="1197.5" r="13.4" fill="none" stroke="none" stroke-width="0" />
<path d="M248.89 1184.32V1195.09H238.12M238.12 1199.91H248.89V1210.68M253.71 1210.68V1199.91H264.48M264.48 1195.09H253.71V1184.32" fill="none" stroke="#231815" stroke-width="0.9689999999999999" />
<circle cx="251.3" cy="1197.5" r="13.4" fill="none" stroke="#231815" stroke-width="1.14" />
<text x="134.8" y="1175.57" font-size="15.2" font-weight="400" fill="#231815" text-anchor="middle" textLength="7.6" lengthAdjust="spacingAndGlyphs" stroke="#231815" stroke-width="0.3">1</text>
<text x="197.6" y="1175.57" font-size="15.2" font-weight="400" fill="#231815" text-anchor="middle" textLength="7.6" lengthAdjust="spacingAndGlyphs" stroke="#231815" stroke-width="0.3">2</text>
<text x="251.3" y="1175.57" font-size="15.2" font-weight="400" fill="#231815" text-anchor="middle" textLength="7.6" lengthAdjust="spacingAndGlyphs" stroke="#231815" stroke-width="0.3">3</text>
<text x="135.6" y="1227.62" font-size="12" font-weight="400" fill="#231815" text-anchor="middle" textLength="12.24" lengthAdjust="spacingAndGlyphs" stroke="#231815" stroke-width="0.35">AK</text>
<text x="194.8" y="1227.62" font-size="12" font-weight="400" fill="#231815" text-anchor="middle" textLength="12.24" lengthAdjust="spacingAndGlyphs" stroke="#231815" stroke-width="0.35">K1</text>
<text x="251.3" y="1227.62" font-size="12" font-weight="400" fill="#231815" text-anchor="middle" textLength="12.24" lengthAdjust="spacingAndGlyphs" stroke="#231815" stroke-width="0.35">A2</text>
<line x1="272.8" y1="1158.5" x2="272.8" y2="1233.4" stroke="#231815" stroke-width="1.2" />
<line x1="291.8" y1="1158.5" x2="291.8" y2="1233.4" stroke="#231815" stroke-width="0.96" />
<rect x="300.6" y="1158.5" width="1.9" height="74.9" rx="0" fill="#ddd" stroke="#4a4a4a" stroke-width="0.84" />
<line x1="331.3" y1="1158.5" x2="331.3" y2="1233.4" stroke="#8a8a8a" stroke-width="0.96" />
<line x1="272.8" y1="1193.7" x2="291.8" y2="1193.7" stroke="#231815" stroke-width="0.96" />
<line x1="272.8" y1="1200.1" x2="291.8" y2="1200.1" stroke="#231815" stroke-width="0.96" />
<rect x="276.6" y="1169.5" width="10.6" height="4.2" rx="0" fill="#8a8a8a" stroke="#231815" stroke-width="0.84" />
<rect x="276.6" y="1183.2" width="10.6" height="4.2" rx="0" fill="#8a8a8a" stroke="#231815" stroke-width="0.84" />
<rect x="276.6" y="1207.3" width="10.6" height="4.2" rx="0" fill="#8a8a8a" stroke="#231815" stroke-width="0.84" />
<rect x="276.6" y="1220.4" width="10.6" height="4.2" rx="0" fill="#8a8a8a" stroke="#231815" stroke-width="0.84" />
<text x="296.3" y="1173.19" font-size="7.2" font-weight="700" fill="#231815" text-anchor="middle" textLength="7.56" lengthAdjust="spacingAndGlyphs" transform="rotate(-90 296.3 1170.6)"  stroke="#231815" stroke-width="0.22">K2</text>
<text x="296.3" y="1192.69" font-size="7.2" font-weight="700" fill="#231815" text-anchor="middle" textLength="7.56" lengthAdjust="spacingAndGlyphs" transform="rotate(-90 296.3 1190.1)"  stroke="#231815" stroke-width="0.22">G2</text>
<text x="296.3" y="1206.09" font-size="7.2" font-weight="700" fill="#231815" text-anchor="middle" textLength="7.56" lengthAdjust="spacingAndGlyphs" transform="rotate(-90 296.3 1203.5)"  stroke="#231815" stroke-width="0.22">G1</text>
<text x="296.3" y="1225.09" font-size="7.2" font-weight="700" fill="#231815" text-anchor="middle" textLength="7.56" lengthAdjust="spacingAndGlyphs" transform="rotate(-90 296.3 1222.5)"  stroke="#231815" stroke-width="0.22">K1</text>
<circle cx="316.6" cy="1196.3" r="12.2" fill="#fff" stroke="#d0d0d0" stroke-width="2.1999999999999997" />
<line x1="126.1" y1="791.3" x2="126.1" y2="1197.5" stroke="#e60012" stroke-width="1.6" />
<line x1="186.1" y1="964" x2="186.1" y2="1197.5" stroke="#231815" stroke-width="1.5" />
<circle cx="126.1" cy="791.3" r="4.3" fill="#e60012" stroke="none" stroke-width="1" />
<circle cx="184.9" cy="818.3" r="4.3" fill="#231815" stroke="none" stroke-width="1" />
<circle cx="126.1" cy="1136.2" r="3.6" fill="#231815" stroke="none" stroke-width="1" />
<circle cx="186.1" cy="1136.2" r="3.6" fill="#231815" stroke="none" stroke-width="1" />
<rect x="120.3" y="836.3" width="12.1" height="40.8" rx="0" fill="none" stroke="#231815" stroke-width="1.3" />
<text x="77.2" y="863.21" font-size="12.8" font-weight="500" fill="#231815" textLength="38.5" lengthAdjust="spacing" >溶断器</text>
<text x="134.7" y="863.98" font-size="11.6" font-weight="400" fill="#231815" textLength="10.6" lengthAdjust="spacingAndGlyphs" stroke="#231815" stroke-width="0.35">BX</text>
<rect x="169.7" y="847.9" width="26.8" height="129.2" rx="0" fill="#fffdfd" stroke="#231815" stroke-width="1.4" />
<line x1="184.8" y1="818.1" x2="184.8" y2="864" stroke="#231815" stroke-width="1.5" />
<path d="M184.6 864.2A10.2 8.33 0 0 0 186.25 880.87A10.2 8.33 0 0 0 186.25 897.53A10.2 8.33 0 0 0 186.25 914.2A10.2 8.33 0 0 0 186.25 930.87A10.2 8.33 0 0 0 186.25 947.53A10.2 8.33 0 0 0 185.5 964.2" fill="none" stroke="#231815" stroke-width="1.4" />
<circle cx="184.6" cy="864.2" r="4.3" fill="#231815" stroke="none" stroke-width="1" />
<circle cx="185.5" cy="964.2" r="4.3" fill="#231815" stroke="none" stroke-width="1" />
<text x="203.5" y="922.06" font-size="12.4" font-weight="500" fill="#231815" textLength="24.8" lengthAdjust="spacing" >负载</text>
<line x1="126.1" y1="1052.2" x2="186.1" y2="1052.2" stroke="#231815" stroke-width="1.4" />
<circle cx="126.1" cy="1052.2" r="3.6" fill="#231815" stroke="none" stroke-width="1" />
<circle cx="186.1" cy="1052.2" r="3.6" fill="#231815" stroke="none" stroke-width="1" />
<rect x="148.3" y="1049" width="24.4" height="8.5" rx="0" fill="#fffdfd" stroke="#231815" stroke-width="1.3" />
<path d="M148.7 1062.8 L171.6 1040.9 M161.4 1042.9 L171.4 1044 V1049" fill="none" stroke="#231815" stroke-width="1.2" />
<text x="161.6" y="1072.46" font-size="11" font-weight="700" fill="#231815" text-anchor="middle" textLength="15.8" lengthAdjust="spacingAndGlyphs" >ZNR</text>
<text x="192.3" y="1058.31" font-size="12.8" font-weight="500" fill="#231815" textLength="52" lengthAdjust="spacing" >压敏电阻</text>
<line x1="126.1" y1="1095.5" x2="140.3" y2="1095.5" stroke="#231815" stroke-width="1.4" />
<line x1="144.5" y1="1095.5" x2="186.1" y2="1095.5" stroke="#231815" stroke-width="1.4" />
<circle cx="126.1" cy="1095.5" r="3.6" fill="#231815" stroke="none" stroke-width="1" />
<circle cx="186.1" cy="1095.5" r="3.6" fill="#231815" stroke="none" stroke-width="1" />
<line x1="140.3" y1="1087.7" x2="140.3" y2="1103.3" stroke="#231815" stroke-width="1.5" />
<line x1="144.5" y1="1087.7" x2="144.5" y2="1103.3" stroke="#231815" stroke-width="1.5" />
<rect x="155.8" y="1092.3" width="17" height="7.4" rx="0" fill="#fffdfd" stroke="#231815" stroke-width="1.3" />
<text x="153.5" y="1113.96" font-size="11" font-weight="700" fill="#231815" text-anchor="middle" textLength="10.8" lengthAdjust="spacingAndGlyphs" >RC</text>
<text x="192.3" y="1099.81" font-size="12.8" font-weight="500" fill="#231815" textLength="52" lengthAdjust="spacing" >阻容吸收</text>
<polygon points="358,1154.2 384,1154.2 371,1166.8" fill="#231815" stroke="#231815" stroke-width="0.3" />
<line x1="358" y1="1166.8" x2="384" y2="1166.8" stroke="#231815" stroke-width="1.8199999999999998" />
<polygon points="358,1245.8 384,1245.8 371,1231.4" fill="#231815" stroke="#231815" stroke-width="0.3" />
<line x1="358" y1="1231.4" x2="384" y2="1231.4" stroke="#231815" stroke-width="1.8199999999999998" />
<line x1="371" y1="1245.8" x2="371" y2="1268.8" stroke="#e60012" stroke-width="1.6" />
<text x="381.2" y="1149.28" font-size="13" font-weight="400" fill="#231815" textLength="36" lengthAdjust="spacingAndGlyphs" stroke="#231815" stroke-width="0.35">IN4001</text>
<text x="381.2" y="1263.38" font-size="13" font-weight="400" fill="#231815" textLength="36" lengthAdjust="spacingAndGlyphs" stroke="#231815" stroke-width="0.35">IN4001</text>
<polyline points="282.4,1185.1 438.1,1185.1 438.1,1144.2 495.1,1144.2 495.1,961.6" fill="none" stroke="#0a9c47" stroke-width="1.85" stroke-linejoin="miter" />
<polyline points="282.4,1209.6 468.9,1209.6 468.9,961.6" fill="none" stroke="#0a9c47" stroke-width="1.85" stroke-linejoin="miter" />
<circle cx="371" cy="1185.1" r="3.5" fill="#231815" stroke="none" stroke-width="1" />
<circle cx="371" cy="1209.6" r="3.5" fill="#231815" stroke="none" stroke-width="1" />
<text x="107.9" y="1253.52" font-size="12" font-weight="500" fill="#231815" textLength="202.8" lengthAdjust="spacing" >2个单向可控硅反并联（2和3短接）</text>
<polyline points="267.8,818.2 267.8,1070.5 649.8,1070.5 649.8,961.6" fill="none" stroke="#231815" stroke-width="1.5" stroke-linejoin="miter" />
<polyline points="280.5,791.3 280.5,1046.7 623.3,1046.7 623.3,961.6" fill="none" stroke="#e60012" stroke-width="1.6" stroke-linejoin="miter" />
<circle cx="267.8" cy="818.3" r="4.3" fill="#231815" stroke="none" stroke-width="1" />
<circle cx="280.5" cy="791.3" r="4.3" fill="#e60012" stroke="none" stroke-width="1" />
<rect x="293.4" y="933.8" width="369.4" height="27.8" rx="0" fill="#fff" stroke="#231815" stroke-width="1.05" />
<rect x="306.7" y="933.8" width="15.2" height="27.8" rx="0" fill="#fff" stroke="#231815" stroke-width="1.05" />
<line x1="306.7" y1="951" x2="321.9" y2="951" stroke="#231815" stroke-width="1.05" />
<rect x="306.7" y="933.8" width="15.2" height="17.2" rx="0" fill="#ececec" stroke="none" stroke-width="0" />
<circle cx="314.3" cy="942.4" r="7.6" fill="#fff" stroke="none" stroke-width="0" />
<path d="M312.93 934.92V941.03H306.82M306.82 943.77H312.93V949.88M315.67 949.88V943.77H321.78M321.78 941.03H315.67V934.92" fill="none" stroke="#231815" stroke-width="0.9450000000000001" />
<circle cx="314.3" cy="942.4" r="7.6" fill="none" stroke="#231815" stroke-width="1.1550000000000002" />
<rect x="306.7" y="933.8" width="15.2" height="27.8" rx="0" fill="none" stroke="#231815" stroke-width="1.05" />
<text x="314.3" y="959.7" font-size="10" font-weight="700" fill="#231815" text-anchor="middle" textLength="5.2" lengthAdjust="spacingAndGlyphs" >1</text>
<rect x="332.45" y="933.8" width="15.2" height="27.8" rx="0" fill="#fff" stroke="#231815" stroke-width="1.05" />
<line x1="332.45" y1="951" x2="347.65" y2="951" stroke="#231815" stroke-width="1.05" />
<rect x="332.45" y="933.8" width="15.2" height="17.2" rx="0" fill="#ececec" stroke="none" stroke-width="0" />
<circle cx="340.05" cy="942.4" r="7.6" fill="#fff" stroke="none" stroke-width="0" />
<path d="M338.68 934.92V941.03H332.57M332.57 943.77H338.68V949.88M341.42 949.88V943.77H347.53M347.53 941.03H341.42V934.92" fill="none" stroke="#231815" stroke-width="0.9450000000000001" />
<circle cx="340.05" cy="942.4" r="7.6" fill="none" stroke="#231815" stroke-width="1.1550000000000002" />
<rect x="332.45" y="933.8" width="15.2" height="27.8" rx="0" fill="none" stroke="#231815" stroke-width="1.05" />
<text x="340.05" y="959.7" font-size="10" font-weight="700" fill="#231815" text-anchor="middle" textLength="5.2" lengthAdjust="spacingAndGlyphs" >2</text>
<rect x="358.2" y="933.8" width="15.2" height="27.8" rx="0" fill="#fff" stroke="#231815" stroke-width="1.05" />
<line x1="358.2" y1="951" x2="373.4" y2="951" stroke="#231815" stroke-width="1.05" />
<rect x="358.2" y="933.8" width="15.2" height="17.2" rx="0" fill="#ececec" stroke="none" stroke-width="0" />
<circle cx="365.8" cy="942.4" r="7.6" fill="#fff" stroke="none" stroke-width="0" />
<path d="M364.43 934.92V941.03H358.32M358.32 943.77H364.43V949.88M367.17 949.88V943.77H373.28M373.28 941.03H367.17V934.92" fill="none" stroke="#231815" stroke-width="0.9450000000000001" />
<circle cx="365.8" cy="942.4" r="7.6" fill="none" stroke="#231815" stroke-width="1.1550000000000002" />
<rect x="358.2" y="933.8" width="15.2" height="27.8" rx="0" fill="none" stroke="#231815" stroke-width="1.05" />
<text x="365.8" y="959.7" font-size="10" font-weight="700" fill="#231815" text-anchor="middle" textLength="5.2" lengthAdjust="spacingAndGlyphs" >3</text>
<rect x="383.95" y="933.8" width="15.2" height="27.8" rx="0" fill="#fff" stroke="#231815" stroke-width="1.05" />
<line x1="383.95" y1="951" x2="399.15" y2="951" stroke="#231815" stroke-width="1.05" />
<rect x="383.95" y="933.8" width="15.2" height="17.2" rx="0" fill="#ececec" stroke="none" stroke-width="0" />
<circle cx="391.55" cy="942.4" r="7.6" fill="#fff" stroke="none" stroke-width="0" />
<path d="M390.18 934.92V941.03H384.07M384.07 943.77H390.18V949.88M392.92 949.88V943.77H399.03M399.03 941.03H392.92V934.92" fill="none" stroke="#231815" stroke-width="0.9450000000000001" />
<circle cx="391.55" cy="942.4" r="7.6" fill="none" stroke="#231815" stroke-width="1.1550000000000002" />
<rect x="383.95" y="933.8" width="15.2" height="27.8" rx="0" fill="none" stroke="#231815" stroke-width="1.05" />
<text x="391.55" y="959.7" font-size="10" font-weight="700" fill="#231815" text-anchor="middle" textLength="5.2" lengthAdjust="spacingAndGlyphs" >4</text>
<rect x="409.7" y="933.8" width="15.2" height="27.8" rx="0" fill="#fff" stroke="#231815" stroke-width="1.05" />
<line x1="409.7" y1="951" x2="424.9" y2="951" stroke="#231815" stroke-width="1.05" />
<rect x="409.7" y="933.8" width="15.2" height="17.2" rx="0" fill="#ececec" stroke="none" stroke-width="0" />
<circle cx="417.3" cy="942.4" r="7.6" fill="#fff" stroke="none" stroke-width="0" />
<path d="M415.93 934.92V941.03H409.82M409.82 943.77H415.93V949.88M418.67 949.88V943.77H424.78M424.78 941.03H418.67V934.92" fill="none" stroke="#231815" stroke-width="0.9450000000000001" />
<circle cx="417.3" cy="942.4" r="7.6" fill="none" stroke="#231815" stroke-width="1.1550000000000002" />
<rect x="409.7" y="933.8" width="15.2" height="27.8" rx="0" fill="none" stroke="#231815" stroke-width="1.05" />
<text x="417.3" y="959.7" font-size="10" font-weight="700" fill="#231815" text-anchor="middle" textLength="5.2" lengthAdjust="spacingAndGlyphs" >5</text>
<rect x="435.45" y="933.8" width="15.2" height="27.8" rx="0" fill="#fff" stroke="#231815" stroke-width="1.05" />
<line x1="435.45" y1="951" x2="450.65" y2="951" stroke="#231815" stroke-width="1.05" />
<rect x="435.45" y="933.8" width="15.2" height="17.2" rx="0" fill="#ececec" stroke="none" stroke-width="0" />
<circle cx="443.05" cy="942.4" r="7.6" fill="#fff" stroke="none" stroke-width="0" />
<path d="M441.68 934.92V941.03H435.57M435.57 943.77H441.68V949.88M444.42 949.88V943.77H450.53M450.53 941.03H444.42V934.92" fill="none" stroke="#231815" stroke-width="0.9450000000000001" />
<circle cx="443.05" cy="942.4" r="7.6" fill="none" stroke="#231815" stroke-width="1.1550000000000002" />
<rect x="435.45" y="933.8" width="15.2" height="27.8" rx="0" fill="none" stroke="#231815" stroke-width="1.05" />
<text x="443.05" y="959.7" font-size="10" font-weight="700" fill="#231815" text-anchor="middle" textLength="5.2" lengthAdjust="spacingAndGlyphs" >6</text>
<rect x="461.2" y="933.8" width="15.2" height="27.8" rx="0" fill="#fff" stroke="#231815" stroke-width="1.05" />
<line x1="461.2" y1="951" x2="476.4" y2="951" stroke="#231815" stroke-width="1.05" />
<rect x="461.2" y="933.8" width="15.2" height="17.2" rx="0" fill="#ececec" stroke="none" stroke-width="0" />
<circle cx="468.8" cy="942.4" r="7.6" fill="#fff" stroke="none" stroke-width="0" />
<path d="M467.43 934.92V941.03H461.32M461.32 943.77H467.43V949.88M470.17 949.88V943.77H476.28M476.28 941.03H470.17V934.92" fill="none" stroke="#231815" stroke-width="0.9450000000000001" />
<circle cx="468.8" cy="942.4" r="7.6" fill="none" stroke="#231815" stroke-width="1.1550000000000002" />
<rect x="461.2" y="933.8" width="15.2" height="27.8" rx="0" fill="none" stroke="#231815" stroke-width="1.05" />
<text x="468.8" y="959.7" font-size="10" font-weight="700" fill="#231815" text-anchor="middle" textLength="5.2" lengthAdjust="spacingAndGlyphs" >7</text>
<rect x="486.95" y="933.8" width="15.2" height="27.8" rx="0" fill="#fff" stroke="#231815" stroke-width="1.05" />
<line x1="486.95" y1="951" x2="502.15" y2="951" stroke="#231815" stroke-width="1.05" />
<rect x="486.95" y="933.8" width="15.2" height="17.2" rx="0" fill="#ececec" stroke="none" stroke-width="0" />
<circle cx="494.55" cy="942.4" r="7.6" fill="#fff" stroke="none" stroke-width="0" />
<path d="M493.18 934.92V941.03H487.07M487.07 943.77H493.18V949.88M495.92 949.88V943.77H502.03M502.03 941.03H495.92V934.92" fill="none" stroke="#231815" stroke-width="0.9450000000000001" />
<circle cx="494.55" cy="942.4" r="7.6" fill="none" stroke="#231815" stroke-width="1.1550000000000002" />
<rect x="486.95" y="933.8" width="15.2" height="27.8" rx="0" fill="none" stroke="#231815" stroke-width="1.05" />
<text x="494.55" y="959.7" font-size="10" font-weight="700" fill="#231815" text-anchor="middle" textLength="5.2" lengthAdjust="spacingAndGlyphs" >8</text>
<rect x="512.7" y="933.8" width="15.2" height="27.8" rx="0" fill="#fff" stroke="#231815" stroke-width="1.05" />
<line x1="512.7" y1="951" x2="527.9" y2="951" stroke="#231815" stroke-width="1.05" />
<rect x="512.7" y="933.8" width="15.2" height="17.2" rx="0" fill="#ececec" stroke="none" stroke-width="0" />
<circle cx="520.3" cy="942.4" r="7.6" fill="#fff" stroke="none" stroke-width="0" />
<path d="M518.93 934.92V941.03H512.82M512.82 943.77H518.93V949.88M521.67 949.88V943.77H527.78M527.78 941.03H521.67V934.92" fill="none" stroke="#231815" stroke-width="0.9450000000000001" />
<circle cx="520.3" cy="942.4" r="7.6" fill="none" stroke="#231815" stroke-width="1.1550000000000002" />
<rect x="512.7" y="933.8" width="15.2" height="27.8" rx="0" fill="none" stroke="#231815" stroke-width="1.05" />
<text x="520.3" y="959.7" font-size="10" font-weight="700" fill="#231815" text-anchor="middle" textLength="5.2" lengthAdjust="spacingAndGlyphs" >9</text>
<rect x="538.45" y="933.8" width="15.2" height="27.8" rx="0" fill="#fff" stroke="#231815" stroke-width="1.05" />
<line x1="538.45" y1="951" x2="553.65" y2="951" stroke="#231815" stroke-width="1.05" />
<rect x="538.45" y="933.8" width="15.2" height="17.2" rx="0" fill="#ececec" stroke="none" stroke-width="0" />
<circle cx="546.05" cy="942.4" r="7.6" fill="#fff" stroke="none" stroke-width="0" />
<path d="M544.68 934.92V941.03H538.57M538.57 943.77H544.68V949.88M547.42 949.88V943.77H553.53M553.53 941.03H547.42V934.92" fill="none" stroke="#231815" stroke-width="0.9450000000000001" />
<circle cx="546.05" cy="942.4" r="7.6" fill="none" stroke="#231815" stroke-width="1.1550000000000002" />
<rect x="538.45" y="933.8" width="15.2" height="27.8" rx="0" fill="none" stroke="#231815" stroke-width="1.05" />
<text x="546.05" y="959.7" font-size="10" font-weight="700" fill="#231815" text-anchor="middle" textLength="10" lengthAdjust="spacingAndGlyphs" >10</text>
<rect x="564.2" y="933.8" width="15.2" height="27.8" rx="0" fill="#fff" stroke="#231815" stroke-width="1.05" />
<line x1="564.2" y1="951" x2="579.4" y2="951" stroke="#231815" stroke-width="1.05" />
<rect x="564.2" y="933.8" width="15.2" height="17.2" rx="0" fill="#ececec" stroke="none" stroke-width="0" />
<circle cx="571.8" cy="942.4" r="7.6" fill="#fff" stroke="none" stroke-width="0" />
<path d="M570.43 934.92V941.03H564.32M564.32 943.77H570.43V949.88M573.17 949.88V943.77H579.28M579.28 941.03H573.17V934.92" fill="none" stroke="#231815" stroke-width="0.9450000000000001" />
<circle cx="571.8" cy="942.4" r="7.6" fill="none" stroke="#231815" stroke-width="1.1550000000000002" />
<rect x="564.2" y="933.8" width="15.2" height="27.8" rx="0" fill="none" stroke="#231815" stroke-width="1.05" />
<text x="571.8" y="959.7" font-size="10" font-weight="700" fill="#231815" text-anchor="middle" textLength="10" lengthAdjust="spacingAndGlyphs" >11</text>
<rect x="589.95" y="933.8" width="15.2" height="27.8" rx="0" fill="#fff" stroke="#231815" stroke-width="1.05" />
<line x1="589.95" y1="951" x2="605.15" y2="951" stroke="#231815" stroke-width="1.05" />
<rect x="589.95" y="933.8" width="15.2" height="17.2" rx="0" fill="#ececec" stroke="none" stroke-width="0" />
<circle cx="597.55" cy="942.4" r="7.6" fill="#fff" stroke="none" stroke-width="0" />
<path d="M596.18 934.92V941.03H590.07M590.07 943.77H596.18V949.88M598.92 949.88V943.77H605.03M605.03 941.03H598.92V934.92" fill="none" stroke="#231815" stroke-width="0.9450000000000001" />
<circle cx="597.55" cy="942.4" r="7.6" fill="none" stroke="#231815" stroke-width="1.1550000000000002" />
<rect x="589.95" y="933.8" width="15.2" height="27.8" rx="0" fill="none" stroke="#231815" stroke-width="1.05" />
<text x="597.55" y="959.7" font-size="10" font-weight="700" fill="#231815" text-anchor="middle" textLength="10" lengthAdjust="spacingAndGlyphs" >12</text>
<rect x="615.7" y="933.8" width="15.2" height="27.8" rx="0" fill="#fff" stroke="#231815" stroke-width="1.05" />
<line x1="615.7" y1="951" x2="630.9" y2="951" stroke="#231815" stroke-width="1.05" />
<rect x="615.7" y="933.8" width="15.2" height="17.2" rx="0" fill="#ececec" stroke="none" stroke-width="0" />
<circle cx="623.3" cy="942.4" r="7.6" fill="#fff" stroke="none" stroke-width="0" />
<path d="M621.93 934.92V941.03H615.82M615.82 943.77H621.93V949.88M624.67 949.88V943.77H630.78M630.78 941.03H624.67V934.92" fill="none" stroke="#231815" stroke-width="0.9450000000000001" />
<circle cx="623.3" cy="942.4" r="7.6" fill="none" stroke="#231815" stroke-width="1.1550000000000002" />
<rect x="615.7" y="933.8" width="15.2" height="27.8" rx="0" fill="none" stroke="#231815" stroke-width="1.05" />
<text x="623.3" y="959.7" font-size="10" font-weight="700" fill="#231815" text-anchor="middle" textLength="10" lengthAdjust="spacingAndGlyphs" >13</text>
<rect x="641.45" y="933.8" width="15.2" height="27.8" rx="0" fill="#fff" stroke="#231815" stroke-width="1.05" />
<line x1="641.45" y1="951" x2="656.65" y2="951" stroke="#231815" stroke-width="1.05" />
<rect x="641.45" y="933.8" width="15.2" height="17.2" rx="0" fill="#ececec" stroke="none" stroke-width="0" />
<circle cx="649.05" cy="942.4" r="7.6" fill="#fff" stroke="none" stroke-width="0" />
<path d="M647.68 934.92V941.03H641.57M641.57 943.77H647.68V949.88M650.42 949.88V943.77H656.53M656.53 941.03H650.42V934.92" fill="none" stroke="#231815" stroke-width="0.9450000000000001" />
<circle cx="649.05" cy="942.4" r="7.6" fill="none" stroke="#231815" stroke-width="1.1550000000000002" />
<rect x="641.45" y="933.8" width="15.2" height="27.8" rx="0" fill="none" stroke="#231815" stroke-width="1.05" />
<text x="649.05" y="959.7" font-size="10" font-weight="700" fill="#231815" text-anchor="middle" textLength="10" lengthAdjust="spacingAndGlyphs" >14</text>
<path d="M640.5 872.6 C629 871.5 628.5 860.3 637 860.3 L685.4 860.3" fill="none" stroke="#6a6665" stroke-width="0.96" stroke-dasharray="1.1 2.3"/>
<circle cx="642.8" cy="872.8" r="2.5" fill="#c9c9c9" stroke="#4a4645" stroke-width="0.8" />
<circle cx="642.8" cy="872.8" r="1.1" fill="#eee" stroke="#4a4645" stroke-width="0.6400000000000001" />
<circle cx="688.3" cy="860" r="2.5" fill="#c9c9c9" stroke="#4a4645" stroke-width="0.8" />
<circle cx="688.3" cy="860" r="1.1" fill="#eee" stroke="#4a4645" stroke-width="0.6400000000000001" />
<line x1="644.6" y1="874.6" x2="649.6" y2="879" stroke="#4a4645" stroke-width="1.04" />
<line x1="690" y1="861.8" x2="696.6" y2="866.4" stroke="#4a4645" stroke-width="1.04" />
<path d="M649.4 879.4 V877.5 Q650 873.8 654 873.8 Q658.2 873.8 658.7 877.5 V879.4Z" fill="#fff" stroke="#4a4645" stroke-width="0.8" />
<path d="M651.2 877.3 Q654 874.6 656.9 877.3" fill="none" stroke="#4a4645" stroke-width="0.7200000000000001" />
<line x1="649.4" y1="878.6" x2="658.7" y2="878.6" stroke="#4a4645" stroke-width="1.1199999999999999" />
<rect x="645" y="882.5" width="24.8" height="21.9" rx="0" fill="#fff" stroke="#4a4645" stroke-width="0.8" />
<rect x="649" y="879.4" width="20.8" height="3.1" rx="0" fill="#fff" stroke="#4a4645" stroke-width="0.8" />
<rect x="637.1" y="882.2" width="6.4" height="22.2" rx="1.6" fill="#fff" stroke="#4a4645" stroke-width="0.8" />
<line x1="637.1" y1="888.2" x2="643.5" y2="888.2" stroke="#4a4645" stroke-width="0.7200000000000001" />
<line x1="637.1" y1="899" x2="643.5" y2="899" stroke="#4a4645" stroke-width="0.7200000000000001" />
<line x1="644.2" y1="883" x2="644.2" y2="904" stroke="#a8a4a3" stroke-width="1.4" />
<path d="M669.8 874.5 L670.6 888 L669.6 904 L669.4 914.2 L679.4 925.3 L706.9 925.3 L717.5 914.2 L717.5 905.5" fill="#fff" stroke="#4a4645" stroke-width="0.8" />
<path d="M669.4 914.2 L717.5 914.2" fill="none" stroke="#4a4645" stroke-width="0.8" />
<rect x="679.4" y="925.3" width="27.5" height="15.1" rx="0" fill="#fff" stroke="#4a4645" stroke-width="0.8" />
<line x1="699.5" y1="926" x2="699.5" y2="940" stroke="#a8a4a3" stroke-width="1.5" />
<rect x="700.7" y="927.3" width="5.9" height="10.9" rx="0" fill="#fff" stroke="#4a4645" stroke-width="0.8" />
<line x1="701.4" y1="936.7" x2="706" y2="936.7" stroke="#a8a4a3" stroke-width="0.8" />
<circle cx="703.2" cy="932.5" r="1" fill="#4a4645" stroke="none" stroke-width="1" />
<rect x="684.2" y="940.4" width="16.1" height="125.8" rx="0" fill="#fff" stroke="none" stroke-width="0" />
<path d="M684.2 925.3 V1064.6 Q684.4 1066.6 687.5 1066 Q691 1065 694 1066.2 Q699.8 1067 700.2 1064" fill="none" stroke="#4a4645" stroke-width="0.8" />
<line x1="699.8" y1="940.4" x2="699.8" y2="1064.6" stroke="#8f8b8a" stroke-width="1.5" />
<line x1="690.9" y1="914.2" x2="690.9" y2="1065.4" stroke="#8f8b8a" stroke-width="1.6" />
<line x1="687.2" y1="914.2" x2="687.2" y2="1066" stroke="#4a4645" stroke-width="0.8" />
<line x1="695.6" y1="914.2" x2="695.6" y2="1066" stroke="#4a4645" stroke-width="0.8" />
<path d="M676.8 914.2 L681.3 925.3" fill="none" stroke="#4a4645" stroke-width="0.8" />
<path d="M703.3 914.2 L699.8 925.3" fill="none" stroke="#4a4645" stroke-width="0.8" />
<path d="M681.3 907.4 L687.2 914.2" fill="none" stroke="#4a4645" stroke-width="0.8" />
<path d="M690.1 907.4 L690.4 914.2" fill="none" stroke="#4a4645" stroke-width="0.8" />
<path d="M699.8 907.4 L695.6 914.2" fill="none" stroke="#4a4645" stroke-width="0.8" />
<path d="M684.2 1070.6 Q684.4 1068.6 687.5 1069 Q691 1068.2 694 1069.6 Q699.8 1068.4 700.3 1070.6 V1107.4 A8.05 8 0 0 1 684.2 1107.4Z" fill="#fff" stroke="#4a4645" stroke-width="0.8" />
<line x1="699.8" y1="1070" x2="699.8" y2="1107" stroke="#8f8b8a" stroke-width="1.5" />
<line x1="690.9" y1="1069" x2="690.9" y2="1109.7" stroke="#8f8b8a" stroke-width="1.6" />
<path d="M687.2 1069 L687.2 1109.7 L695.6 1109.7 L695.6 1107.8" fill="none" stroke="#4a4645" stroke-width="0.8" />
<path d="M695.6 1069.6 L695.6 1099.2" fill="none" stroke="#4a4645" stroke-width="0.8" />
<path d="M695.6 1099.2 l1.2 0.9 l-2.6 1.5 l2.6 1.5 l-2.6 1.5 l2.6 1.5 l-1.2 0.9" fill="none" stroke="#4a4645" stroke-width="0.7200000000000001" />
<g transform="translate(662 868.8) rotate(34.1) scale(1)" fill="#fff" stroke="#4a4645" stroke-width="0.8">
<path d="M5.5 -8.9 C6.5 -12 10 -14.6 17 -14.6 H56.599999999999994 C64.6 -14.6 68.6 -12 69.6 -8.9Z"/>
<line x1="9" y1="-11.6" x2="65.6" y2="-11.6" stroke-width="0.64"/>
<path d="M27.2 -14.6 V-18 Q27.6 -21.6 31.2 -21.6 Q34.8 -21.6 35.2 -18 V-14.6Z"/>
<path d="M28.6 -15.6 V-17.6 Q31.2 -20.2 33.8 -17.6 V-15.6Z" fill="#8d8d8d" stroke-width="0.64"/>
<rect x="40" y="-18.4" width="9.4" height="3.8"/>
<rect x="0" y="-8.9" width="73.6" height="8.9"/>
<line x1="0" y1="-7.3" x2="73.6" y2="-7.3" stroke-width="0.72"/>
<line x1="3.2" y1="-8.9" x2="3.2" y2="0" stroke-width="0.72"/>
<line x1="70.39999999999999" y1="-8.9" x2="70.39999999999999" y2="0" stroke-width="0.72"/>
<rect x="3.45" y="-7.3" width="9.1" height="7.3" rx="1.7" stroke-width="0.72"/>
<rect x="13.05" y="-7.3" width="9.1" height="7.3" rx="1.7" stroke-width="0.72"/>
<rect x="22.65" y="-7.3" width="9.1" height="7.3" rx="1.7" stroke-width="0.72"/>
<rect x="32.25" y="-7.3" width="9.1" height="7.3" rx="1.7" stroke-width="0.72"/>
<rect x="41.85" y="-7.3" width="9.1" height="7.3" rx="1.7" stroke-width="0.72"/>
<rect x="51.45" y="-7.3" width="9.1" height="7.3" rx="1.7" stroke-width="0.72"/>
<rect x="61.05" y="-7.3" width="9.1" height="7.3" rx="1.7" stroke-width="0.72"/>
</g>
<polyline points="314.7,942.5 314.7,848.5 604.8,848.5 604.8,890 689.1,890 699.4,907" fill="none" stroke="#e4007f" stroke-width="1.6" stroke-linejoin="miter" />
<polyline points="340,942.5 340,873.5 594.7,873.5 594.7,894 682.7,894 689.9,907" fill="none" stroke="#0aa0e6" stroke-width="1.6" stroke-linejoin="miter" />
<polyline points="365.3,942.5 365.3,898.7 678.5,898.4 681.2,907" fill="none" stroke="#0aa0e6" stroke-width="1.6" stroke-linejoin="miter" />
<circle cx="681.2" cy="907" r="1.6" fill="#231815" stroke="none" stroke-width="1" />
<circle cx="689.9" cy="907" r="1.6" fill="#231815" stroke="none" stroke-width="1" />
<circle cx="699.4" cy="907" r="1.6" fill="#231815" stroke="none" stroke-width="1" />
<text x="577.2" y="846.37" font-size="11.3" font-weight="700" fill="#231815" text-anchor="middle" textLength="5.4" lengthAdjust="spacingAndGlyphs" >A</text>
<text x="577.2" y="869.67" font-size="11.3" font-weight="700" fill="#231815" text-anchor="middle" textLength="5" lengthAdjust="spacingAndGlyphs" >B</text>
<text x="577.2" y="894.17" font-size="11.3" font-weight="700" fill="#231815" text-anchor="middle" textLength="5" lengthAdjust="spacingAndGlyphs" >B</text>
<text x="630.4" y="846.18" font-size="13" font-weight="500" fill="#231815" textLength="39" lengthAdjust="spacing" >三线制</text>
<text x="676" y="846.62" font-size="13.4" font-weight="400" fill="#231815" textLength="32" lengthAdjust="spacingAndGlyphs" stroke="#231815" stroke-width="0.3">PT100</text>
<text x="461.9" y="974.37" font-size="11.3" font-weight="700" fill="#231815" text-anchor="middle" textLength="5" lengthAdjust="spacingAndGlyphs" >G</text>
<text x="503.2" y="974.37" font-size="11.3" font-weight="700" fill="#231815" text-anchor="middle" textLength="4.4" lengthAdjust="spacingAndGlyphs" >T</text>
<text x="473.6" y="984.37" font-size="11.3" font-weight="700" fill="#231815" textLength="16.3" lengthAdjust="spacingAndGlyphs" >SCR</text>
<text x="499.6" y="987.95" font-size="10.7" font-weight="700" fill="#231815" textLength="42" lengthAdjust="spacing" >控制输出</text>
<text x="626" y="978.72" font-size="10.9" font-weight="700" fill="#231815" textLength="21.8" lengthAdjust="spacing" >仪表</text>
<text x="626" y="992.02" font-size="10.9" font-weight="700" fill="#231815" textLength="21.8" lengthAdjust="spacing" >供电</text>
<polyline points="488,1167.6 488,1165.1 504.9,1165.1" fill="none" stroke="#a2a2a2" stroke-width="1.5" stroke-linejoin="miter" />
<polyline points="703.9,1165.1 721.2,1165.1 721.2,1167.6" fill="none" stroke="#a2a2a2" stroke-width="1.5" stroke-linejoin="miter" />
<polyline points="488,1249 488,1251.4 504.9,1251.4" fill="none" stroke="#a2a2a2" stroke-width="1.5" stroke-linejoin="miter" />
<polyline points="703.9,1251.4 721.2,1251.4 721.2,1249" fill="none" stroke="#a2a2a2" stroke-width="1.5" stroke-linejoin="miter" />
<line x1="544.9" y1="1165.1" x2="559.6" y2="1165.1" stroke="#a2a2a2" stroke-width="1.5" />
<line x1="529" y1="1251.4" x2="543.6" y2="1251.4" stroke="#a2a2a2" stroke-width="1.5" />
<line x1="574.8" y1="1165.1" x2="589.5" y2="1165.1" stroke="#a2a2a2" stroke-width="1.5" />
<line x1="559.06" y1="1251.4" x2="573.66" y2="1251.4" stroke="#a2a2a2" stroke-width="1.5" />
<line x1="604.7" y1="1165.1" x2="619.4" y2="1165.1" stroke="#a2a2a2" stroke-width="1.5" />
<line x1="589.12" y1="1251.4" x2="603.72" y2="1251.4" stroke="#a2a2a2" stroke-width="1.5" />
<line x1="634.6" y1="1165.1" x2="649.3" y2="1165.1" stroke="#a2a2a2" stroke-width="1.5" />
<line x1="619.18" y1="1251.4" x2="633.78" y2="1251.4" stroke="#a2a2a2" stroke-width="1.5" />
<line x1="664.5" y1="1165.1" x2="679.2" y2="1165.1" stroke="#a2a2a2" stroke-width="1.5" />
<line x1="649.24" y1="1251.4" x2="663.84" y2="1251.4" stroke="#a2a2a2" stroke-width="1.5" />
<line x1="488" y1="1174.4" x2="488" y2="1188" stroke="#a2a2a2" stroke-width="1.5" />
<line x1="721.2" y1="1173.2" x2="721.2" y2="1186.6" stroke="#a2a2a2" stroke-width="1.5" />
<line x1="488" y1="1202.1" x2="488" y2="1215.7" stroke="#a2a2a2" stroke-width="1.5" />
<line x1="721.2" y1="1200.8" x2="721.2" y2="1214.2" stroke="#a2a2a2" stroke-width="1.5" />
<line x1="488" y1="1229.8" x2="488" y2="1243.4" stroke="#a2a2a2" stroke-width="1.5" />
<line x1="721.2" y1="1228.4" x2="721.2" y2="1241.8" stroke="#a2a2a2" stroke-width="1.5" />
<text x="495.2" y="1183.05" font-size="10.7" font-weight="700" fill="#231815" textLength="42.6" lengthAdjust="spacing" >工作电源</text>
<rect x="512.17" y="1195.3" width="16.43" height="16.3" rx="0" fill="#e4e4e4" stroke="none" stroke-width="0" />
<circle cx="520.38" cy="1203.45" r="7.25" fill="#fff" stroke="none" stroke-width="0" />
<path d="M519.08 1196.31V1202.14H513.25M513.25 1204.76H519.08V1210.59M521.69 1210.59V1204.76H527.52M527.52 1202.14H521.69V1196.31" fill="none" stroke="#3a3a3a" stroke-width="0.8" />
<circle cx="520.38" cy="1203.45" r="7.25" fill="none" stroke="#231815" stroke-width="1.05" />
<rect x="512.17" y="1195.3" width="16.43" height="16.3" rx="0" fill="none" stroke="#231815" stroke-width="1" />
<line x1="496.2" y1="1195.3" x2="528.6" y2="1195.3" stroke="#231815" stroke-width="1.15" />
<line x1="496.2" y1="1211.6" x2="528.6" y2="1211.6" stroke="#231815" stroke-width="1.15" />
<line x1="508.29" y1="1195.3" x2="508.29" y2="1211.6" stroke="#231815" stroke-width="1" />
<text x="502.55" y="1206.82" font-size="8.8" font-weight="700" fill="#231815" text-anchor="middle" textLength="8.8" lengthAdjust="spacingAndGlyphs" stroke="#231815" stroke-width="0.25">13</text>
<rect x="512.1" y="1214.6" width="16.5" height="16" rx="0" fill="#e4e4e4" stroke="none" stroke-width="0" />
<circle cx="520.35" cy="1222.6" r="7.12" fill="#fff" stroke="none" stroke-width="0" />
<path d="M519.07 1215.6V1221.32H513.35M513.35 1223.88H519.07V1229.6M521.63 1229.6V1223.88H527.35M527.35 1221.32H521.63V1215.6" fill="none" stroke="#3a3a3a" stroke-width="0.8" />
<circle cx="520.35" cy="1222.6" r="7.12" fill="none" stroke="#231815" stroke-width="1.05" />
<rect x="512.1" y="1214.6" width="16.5" height="16" rx="0" fill="none" stroke="#231815" stroke-width="1" />
<line x1="496.2" y1="1214.6" x2="528.6" y2="1214.6" stroke="#231815" stroke-width="1.15" />
<line x1="496.2" y1="1230.6" x2="528.6" y2="1230.6" stroke="#231815" stroke-width="1.15" />
<line x1="508.3" y1="1214.6" x2="508.3" y2="1230.6" stroke="#231815" stroke-width="1" />
<text x="502.55" y="1225.97" font-size="8.8" font-weight="700" fill="#231815" text-anchor="middle" textLength="8.8" lengthAdjust="spacingAndGlyphs" stroke="#231815" stroke-width="0.25">14</text>
<line x1="529.4" y1="1203.6" x2="546.4" y2="1203.6" stroke="#231815" stroke-width="0.9" />
<circle cx="547.8" cy="1203.6" r="1.5" fill="#fff" stroke="#231815" stroke-width="0.8" />
<line x1="529.4" y1="1223" x2="546.4" y2="1223" stroke="#231815" stroke-width="0.9" />
<circle cx="547.8" cy="1223" r="1.5" fill="#fff" stroke="#231815" stroke-width="0.8" />
<text x="538.7" y="1202.02" font-size="10.6" font-weight="700" fill="#231815" text-anchor="middle" textLength="4.8" lengthAdjust="spacingAndGlyphs" >L</text>
<text x="538.7" y="1233.62" font-size="10.6" font-weight="700" fill="#231815" text-anchor="middle" textLength="5" lengthAdjust="spacingAndGlyphs" >N</text>
<text x="536.5" y="1217.66" font-size="12.4" font-weight="700" fill="#231815" textLength="31.6" lengthAdjust="spacingAndGlyphs" >AC220V</text>
<text x="575.2" y="1183.05" font-size="10.7" font-weight="700" fill="#231815" textLength="42.6" lengthAdjust="spacing" >控制输出</text>
<text x="621.6" y="1183.1" font-size="11.4" font-weight="700" fill="#231815" textLength="15.6" lengthAdjust="spacingAndGlyphs" >OUT</text>
<rect x="593.21" y="1194.6" width="15.39" height="15.6" rx="0" fill="#e4e4e4" stroke="none" stroke-width="0" />
<circle cx="600.91" cy="1202.4" r="6.94" fill="#fff" stroke="none" stroke-width="0" />
<path d="M599.66 1195.57V1201.15H594.08M594.08 1203.65H599.66V1209.23M602.16 1209.23V1203.65H607.73M607.73 1201.15H602.16V1195.57" fill="none" stroke="#3a3a3a" stroke-width="0.8" />
<circle cx="600.91" cy="1202.4" r="6.94" fill="none" stroke="#231815" stroke-width="1.05" />
<rect x="593.21" y="1194.6" width="15.39" height="15.6" rx="0" fill="none" stroke="#231815" stroke-width="1" />
<line x1="577.2" y1="1194.6" x2="608.6" y2="1194.6" stroke="#231815" stroke-width="1.15" />
<line x1="577.2" y1="1210.2" x2="608.6" y2="1210.2" stroke="#231815" stroke-width="1.15" />
<line x1="589.51" y1="1194.6" x2="589.51" y2="1210.2" stroke="#231815" stroke-width="1" />
<text x="583.65" y="1206.05" font-size="9.6" font-weight="700" fill="#231815" text-anchor="middle" textLength="4.8" lengthAdjust="spacingAndGlyphs" stroke="#231815" stroke-width="0.24">7</text>
<rect x="593.17" y="1213.3" width="15.43" height="15.4" rx="0" fill="#e4e4e4" stroke="none" stroke-width="0" />
<circle cx="600.88" cy="1221" r="6.85" fill="#fff" stroke="none" stroke-width="0" />
<path d="M599.65 1214.26V1219.77H594.14M594.14 1222.23H599.65V1227.74M602.12 1227.74V1222.23H607.63M607.63 1219.77H602.12V1214.26" fill="none" stroke="#3a3a3a" stroke-width="0.8" />
<circle cx="600.88" cy="1221" r="6.85" fill="none" stroke="#231815" stroke-width="1.05" />
<rect x="593.17" y="1213.3" width="15.43" height="15.4" rx="0" fill="none" stroke="#231815" stroke-width="1" />
<line x1="577.2" y1="1213.3" x2="608.6" y2="1213.3" stroke="#231815" stroke-width="1.15" />
<line x1="577.2" y1="1228.7" x2="608.6" y2="1228.7" stroke="#231815" stroke-width="1.15" />
<line x1="589.51" y1="1213.3" x2="589.51" y2="1228.7" stroke="#231815" stroke-width="1" />
<text x="583.64" y="1224.65" font-size="9.6" font-weight="700" fill="#231815" text-anchor="middle" textLength="4.8" lengthAdjust="spacingAndGlyphs" stroke="#231815" stroke-width="0.24">8</text>
<line x1="608.6" y1="1203.3" x2="622" y2="1203.3" stroke="#231815" stroke-width="0.9" />
<circle cx="622.6" cy="1203.3" r="0.9" fill="#231815" stroke="none" stroke-width="1" />
<line x1="608.6" y1="1222.3" x2="622" y2="1222.3" stroke="#231815" stroke-width="0.9" />
<circle cx="622.6" cy="1222.3" r="0.9" fill="#231815" stroke="none" stroke-width="1" />
<text x="616.2" y="1202.02" font-size="10.6" font-weight="700" fill="#231815" text-anchor="middle" textLength="4.8" lengthAdjust="spacingAndGlyphs" >G</text>
<text x="616.2" y="1232.12" font-size="10.6" font-weight="700" fill="#231815" text-anchor="middle" textLength="4.6" lengthAdjust="spacingAndGlyphs" >T</text>
<text x="623.8" y="1217.65" font-size="11.8" font-weight="700" fill="#231815" textLength="16" lengthAdjust="spacingAndGlyphs" >SCR</text>
<text x="651.1" y="1183.05" font-size="10.7" font-weight="700" fill="#231815" textLength="53.2" lengthAdjust="spacing" >热电阻输入</text>
<rect x="666.84" y="1189.9" width="17.96" height="16.2" rx="0" fill="#e4e4e4" stroke="none" stroke-width="0" />
<circle cx="675.82" cy="1198" r="7.21" fill="#fff" stroke="none" stroke-width="0" />
<path d="M674.52 1190.91V1196.7H668.73M668.73 1199.3H674.52V1205.09M677.12 1205.09V1199.3H682.91M682.91 1196.7H677.12V1190.91" fill="none" stroke="#3a3a3a" stroke-width="0.8" />
<circle cx="675.82" cy="1198" r="7.21" fill="none" stroke="#231815" stroke-width="1.05" />
<rect x="666.84" y="1189.9" width="17.96" height="16.2" rx="0" fill="none" stroke="#231815" stroke-width="1" />
<line x1="651.1" y1="1189.9" x2="684.8" y2="1189.9" stroke="#231815" stroke-width="1.15" />
<line x1="651.1" y1="1206.1" x2="684.8" y2="1206.1" stroke="#231815" stroke-width="1.15" />
<line x1="663" y1="1189.9" x2="663" y2="1206.1" stroke="#231815" stroke-width="1" />
<text x="657.35" y="1201.66" font-size="9.6" font-weight="700" fill="#231815" text-anchor="middle" textLength="4.8" lengthAdjust="spacingAndGlyphs" stroke="#231815" stroke-width="0.25">1</text>
<rect x="666.84" y="1208.4" width="17.96" height="16.2" rx="0" fill="#e4e4e4" stroke="none" stroke-width="0" />
<circle cx="675.82" cy="1216.5" r="7.21" fill="#fff" stroke="none" stroke-width="0" />
<path d="M674.52 1209.41V1215.2H668.73M668.73 1217.8H674.52V1223.59M677.12 1223.59V1217.8H682.91M682.91 1215.2H677.12V1209.41" fill="none" stroke="#3a3a3a" stroke-width="0.8" />
<circle cx="675.82" cy="1216.5" r="7.21" fill="none" stroke="#231815" stroke-width="1.05" />
<rect x="666.84" y="1208.4" width="17.96" height="16.2" rx="0" fill="none" stroke="#231815" stroke-width="1" />
<line x1="651.1" y1="1208.4" x2="684.8" y2="1208.4" stroke="#231815" stroke-width="1.15" />
<line x1="651.1" y1="1224.6" x2="684.8" y2="1224.6" stroke="#231815" stroke-width="1.15" />
<line x1="663" y1="1208.4" x2="663" y2="1224.6" stroke="#231815" stroke-width="1" />
<text x="657.35" y="1220.16" font-size="9.6" font-weight="700" fill="#231815" text-anchor="middle" textLength="4.8" lengthAdjust="spacingAndGlyphs" stroke="#231815" stroke-width="0.25">2</text>
<rect x="666.84" y="1227.8" width="17.96" height="16.2" rx="0" fill="#e4e4e4" stroke="none" stroke-width="0" />
<circle cx="675.82" cy="1235.9" r="7.21" fill="#fff" stroke="none" stroke-width="0" />
<path d="M674.52 1228.81V1234.6H668.73M668.73 1237.2H674.52V1242.99M677.12 1242.99V1237.2H682.91M682.91 1234.6H677.12V1228.81" fill="none" stroke="#3a3a3a" stroke-width="0.8" />
<circle cx="675.82" cy="1235.9" r="7.21" fill="none" stroke="#231815" stroke-width="1.05" />
<rect x="666.84" y="1227.8" width="17.96" height="16.2" rx="0" fill="none" stroke="#231815" stroke-width="1" />
<line x1="651.1" y1="1227.8" x2="684.8" y2="1227.8" stroke="#231815" stroke-width="1.15" />
<line x1="651.1" y1="1244" x2="684.8" y2="1244" stroke="#231815" stroke-width="1.15" />
<line x1="663" y1="1227.8" x2="663" y2="1244" stroke="#231815" stroke-width="1" />
<text x="657.35" y="1239.56" font-size="9.6" font-weight="700" fill="#231815" text-anchor="middle" textLength="4.8" lengthAdjust="spacingAndGlyphs" stroke="#231815" stroke-width="0.25">3</text>
<polyline points="684.8,1197.1 695,1197.1 695,1200.8" fill="none" stroke="#231815" stroke-width="1" stroke-linejoin="miter" />
<rect x="692.5" y="1200.6" width="5.1" height="14" rx="0" fill="#fff" stroke="#231815" stroke-width="1" />
<polyline points="695,1214.6 695,1236.2 684.8,1236.2" fill="none" stroke="#231815" stroke-width="1" stroke-linejoin="miter" />
<polyline points="684.8,1216.4 689.5,1216.4 689.5,1226.4 695,1226.4" fill="none" stroke="#231815" stroke-width="1" stroke-linejoin="miter" />
<text x="699" y="1218.37" font-size="10.2" font-weight="700" fill="#231815" textLength="14.5" lengthAdjust="spacingAndGlyphs" >RTD</text>
</svg>
</body></html>
